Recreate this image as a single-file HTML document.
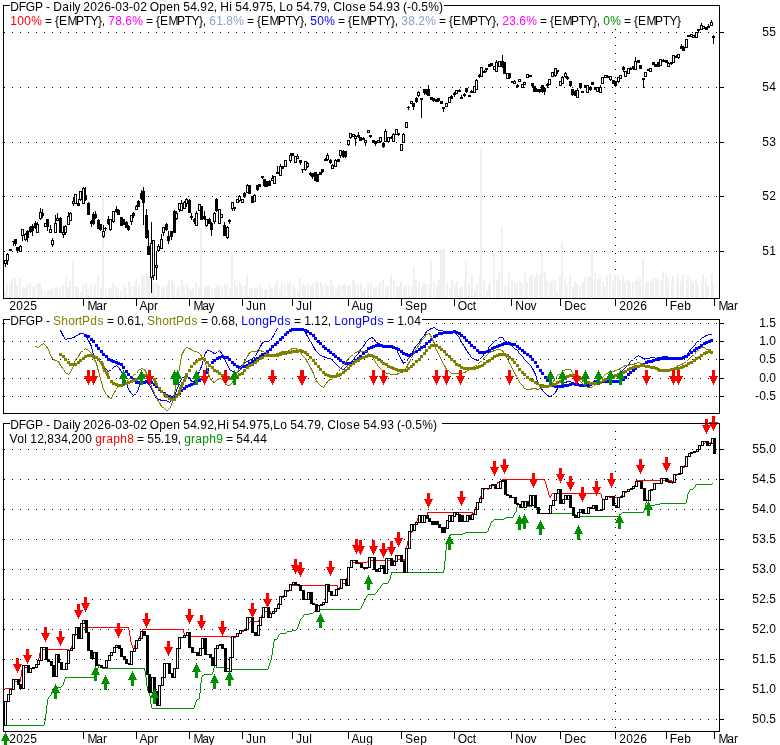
<!DOCTYPE html>
<html><head><meta charset="utf-8"><title>DFGP chart</title>
<style>html,body{margin:0;padding:0;background:#fff}body{width:780px;height:745px;overflow:hidden}</style></head>
<body>
<svg width="780" height="745" viewBox="0 0 780 745" style="display:block">
<rect width="780" height="745" fill="#fff"/>
<g shape-rendering="crispEdges">
<path d="M4 32.5H719" stroke="#000" stroke-width="1" stroke-dasharray="1 7" fill="none"/>
<rect x="720" y="32" width="4" height="1" fill="#000"/>
<text x="762.16 769.16" y="36" fill="#000" font-family="Liberation Sans, Arial, sans-serif" font-size="12px">55</text>
<path d="M4 87.5H719" stroke="#000" stroke-width="1" stroke-dasharray="1 7" fill="none"/>
<rect x="720" y="87" width="4" height="1" fill="#000"/>
<text x="762.16 769.16" y="91" fill="#000" font-family="Liberation Sans, Arial, sans-serif" font-size="12px">54</text>
<path d="M4 142.5H719" stroke="#000" stroke-width="1" stroke-dasharray="1 7" fill="none"/>
<rect x="720" y="142" width="4" height="1" fill="#000"/>
<text x="762.16 769.16" y="146" fill="#000" font-family="Liberation Sans, Arial, sans-serif" font-size="12px">53</text>
<path d="M4 196.5H719" stroke="#000" stroke-width="1" stroke-dasharray="1 7" fill="none"/>
<rect x="720" y="196" width="4" height="1" fill="#000"/>
<text x="762.16 769.16" y="200" fill="#000" font-family="Liberation Sans, Arial, sans-serif" font-size="12px">52</text>
<path d="M4 251.5H719" stroke="#000" stroke-width="1" stroke-dasharray="1 7" fill="none"/>
<rect x="720" y="251" width="4" height="1" fill="#000"/>
<text x="762.16 769.16" y="255" fill="#000" font-family="Liberation Sans, Arial, sans-serif" font-size="12px">51</text>
<path d="M615.5 29V294" stroke="#000" stroke-width="1" stroke-dasharray="1 7" fill="none"/>
<rect x="4" y="290" width="2" height="8" fill="#f0f0f0"/>
<rect x="6" y="284" width="2" height="14" fill="#f0f0f0"/>
<rect x="9" y="284" width="2" height="14" fill="#f0f0f0"/>
<rect x="11" y="278" width="2" height="20" fill="#f0f0f0"/>
<rect x="14" y="278" width="2" height="20" fill="#f0f0f0"/>
<rect x="16" y="285" width="2" height="13" fill="#f0f0f0"/>
<rect x="19" y="278" width="2" height="20" fill="#f0f0f0"/>
<rect x="22" y="287" width="2" height="11" fill="#f0f0f0"/>
<rect x="24" y="288" width="2" height="10" fill="#f0f0f0"/>
<rect x="26" y="286" width="2" height="12" fill="#f0f0f0"/>
<rect x="29" y="283" width="2" height="15" fill="#f0f0f0"/>
<rect x="32" y="287" width="2" height="11" fill="#f0f0f0"/>
<rect x="34" y="286" width="2" height="12" fill="#f0f0f0"/>
<rect x="37" y="283" width="2" height="15" fill="#f0f0f0"/>
<rect x="39" y="283" width="2" height="15" fill="#f0f0f0"/>
<rect x="41" y="289" width="2" height="9" fill="#f0f0f0"/>
<rect x="44" y="292" width="2" height="6" fill="#f0f0f0"/>
<rect x="47" y="290" width="2" height="8" fill="#f0f0f0"/>
<rect x="49" y="289" width="2" height="9" fill="#f0f0f0"/>
<rect x="51" y="288" width="2" height="10" fill="#f0f0f0"/>
<rect x="54" y="287" width="2" height="11" fill="#f0f0f0"/>
<rect x="56" y="287" width="2" height="11" fill="#f0f0f0"/>
<rect x="59" y="287" width="2" height="11" fill="#f0f0f0"/>
<rect x="62" y="285" width="2" height="13" fill="#f0f0f0"/>
<rect x="65" y="277" width="2" height="21" fill="#f0f0f0"/>
<rect x="67" y="287" width="2" height="11" fill="#f0f0f0"/>
<rect x="69" y="281" width="2" height="17" fill="#f0f0f0"/>
<rect x="72" y="261" width="2" height="37" fill="#f0f0f0"/>
<rect x="75" y="286" width="2" height="12" fill="#f0f0f0"/>
<rect x="77" y="287" width="2" height="11" fill="#f0f0f0"/>
<rect x="80" y="292" width="2" height="6" fill="#f0f0f0"/>
<rect x="82" y="286" width="2" height="12" fill="#f0f0f0"/>
<rect x="85" y="283" width="2" height="15" fill="#f0f0f0"/>
<rect x="87" y="289" width="2" height="9" fill="#f0f0f0"/>
<rect x="90" y="285" width="2" height="13" fill="#f0f0f0"/>
<rect x="93" y="289" width="2" height="9" fill="#f0f0f0"/>
<rect x="94" y="284" width="2" height="14" fill="#f0f0f0"/>
<rect x="97" y="276" width="2" height="22" fill="#f0f0f0"/>
<rect x="100" y="288" width="2" height="10" fill="#f0f0f0"/>
<rect x="102" y="193" width="2" height="105" fill="#f0f0f0"/>
<rect x="105" y="289" width="2" height="9" fill="#f0f0f0"/>
<rect x="108" y="288" width="2" height="10" fill="#f0f0f0"/>
<rect x="110" y="287" width="2" height="11" fill="#f0f0f0"/>
<rect x="112" y="283" width="2" height="15" fill="#f0f0f0"/>
<rect x="115" y="286" width="2" height="12" fill="#f0f0f0"/>
<rect x="117" y="289" width="2" height="9" fill="#f0f0f0"/>
<rect x="120" y="290" width="2" height="8" fill="#f0f0f0"/>
<rect x="123" y="285" width="2" height="13" fill="#f0f0f0"/>
<rect x="125" y="288" width="2" height="10" fill="#f0f0f0"/>
<rect x="128" y="281" width="2" height="17" fill="#f0f0f0"/>
<rect x="130" y="287" width="2" height="11" fill="#f0f0f0"/>
<rect x="133" y="286" width="2" height="12" fill="#f0f0f0"/>
<rect x="135" y="279" width="2" height="19" fill="#f0f0f0"/>
<rect x="138" y="285" width="2" height="13" fill="#f0f0f0"/>
<rect x="141" y="275" width="2" height="23" fill="#f0f0f0"/>
<rect x="143" y="276" width="2" height="22" fill="#f0f0f0"/>
<rect x="146" y="273" width="2" height="25" fill="#f0f0f0"/>
<rect x="148" y="276" width="2" height="22" fill="#f0f0f0"/>
<rect x="151" y="278" width="2" height="20" fill="#f0f0f0"/>
<rect x="153" y="283" width="2" height="15" fill="#f0f0f0"/>
<rect x="156" y="283" width="2" height="15" fill="#f0f0f0"/>
<rect x="158" y="285" width="2" height="13" fill="#f0f0f0"/>
<rect x="161" y="287" width="2" height="11" fill="#f0f0f0"/>
<rect x="163" y="287" width="2" height="11" fill="#f0f0f0"/>
<rect x="166" y="285" width="2" height="13" fill="#f0f0f0"/>
<rect x="168" y="280" width="2" height="18" fill="#f0f0f0"/>
<rect x="171" y="279" width="2" height="19" fill="#f0f0f0"/>
<rect x="173" y="284" width="2" height="14" fill="#f0f0f0"/>
<rect x="176" y="289" width="2" height="9" fill="#f0f0f0"/>
<rect x="178" y="286" width="2" height="12" fill="#f0f0f0"/>
<rect x="181" y="279" width="2" height="19" fill="#f0f0f0"/>
<rect x="183" y="285" width="2" height="13" fill="#f0f0f0"/>
<rect x="186" y="284" width="2" height="14" fill="#f0f0f0"/>
<rect x="188" y="288" width="2" height="10" fill="#f0f0f0"/>
<rect x="189" y="289" width="2" height="9" fill="#f0f0f0"/>
<rect x="191" y="290" width="2" height="8" fill="#f0f0f0"/>
<rect x="192" y="288" width="2" height="10" fill="#f0f0f0"/>
<rect x="195" y="283" width="2" height="15" fill="#f0f0f0"/>
<rect x="198" y="287" width="2" height="11" fill="#f0f0f0"/>
<rect x="200" y="228" width="2" height="70" fill="#f0f0f0"/>
<rect x="204" y="287" width="2" height="11" fill="#f0f0f0"/>
<rect x="206" y="285" width="2" height="13" fill="#f0f0f0"/>
<rect x="208" y="286" width="2" height="12" fill="#f0f0f0"/>
<rect x="211" y="289" width="2" height="9" fill="#f0f0f0"/>
<rect x="214" y="288" width="2" height="10" fill="#f0f0f0"/>
<rect x="216" y="286" width="2" height="12" fill="#f0f0f0"/>
<rect x="218" y="285" width="2" height="13" fill="#f0f0f0"/>
<rect x="221" y="287" width="2" height="11" fill="#f0f0f0"/>
<rect x="224" y="284" width="2" height="14" fill="#f0f0f0"/>
<rect x="226" y="285" width="2" height="13" fill="#f0f0f0"/>
<rect x="229" y="288" width="2" height="10" fill="#f0f0f0"/>
<rect x="231" y="253" width="2" height="45" fill="#f0f0f0"/>
<rect x="234" y="280" width="2" height="18" fill="#f0f0f0"/>
<rect x="236" y="286" width="2" height="12" fill="#f0f0f0"/>
<rect x="239" y="282" width="2" height="16" fill="#f0f0f0"/>
<rect x="241" y="286" width="2" height="12" fill="#f0f0f0"/>
<rect x="244" y="285" width="2" height="13" fill="#f0f0f0"/>
<rect x="246" y="275" width="2" height="23" fill="#f0f0f0"/>
<rect x="249" y="288" width="2" height="10" fill="#f0f0f0"/>
<rect x="251" y="288" width="2" height="10" fill="#f0f0f0"/>
<rect x="254" y="287" width="2" height="11" fill="#f0f0f0"/>
<rect x="256" y="287" width="2" height="11" fill="#f0f0f0"/>
<rect x="259" y="284" width="2" height="14" fill="#f0f0f0"/>
<rect x="261" y="289" width="2" height="9" fill="#f0f0f0"/>
<rect x="264" y="289" width="2" height="9" fill="#f0f0f0"/>
<rect x="266" y="289" width="2" height="9" fill="#f0f0f0"/>
<rect x="269" y="285" width="2" height="13" fill="#f0f0f0"/>
<rect x="271" y="288" width="2" height="10" fill="#f0f0f0"/>
<rect x="274" y="286" width="2" height="12" fill="#f0f0f0"/>
<rect x="276" y="280" width="2" height="18" fill="#f0f0f0"/>
<rect x="279" y="290" width="2" height="8" fill="#f0f0f0"/>
<rect x="281" y="283" width="2" height="15" fill="#f0f0f0"/>
<rect x="284" y="285" width="2" height="13" fill="#f0f0f0"/>
<rect x="287" y="283" width="2" height="15" fill="#f0f0f0"/>
<rect x="289" y="282" width="2" height="16" fill="#f0f0f0"/>
<rect x="292" y="285" width="2" height="13" fill="#f0f0f0"/>
<rect x="294" y="288" width="2" height="10" fill="#f0f0f0"/>
<rect x="297" y="291" width="2" height="7" fill="#f0f0f0"/>
<rect x="299" y="278" width="2" height="20" fill="#f0f0f0"/>
<rect x="302" y="283" width="2" height="15" fill="#f0f0f0"/>
<rect x="304" y="285" width="2" height="13" fill="#f0f0f0"/>
<rect x="307" y="284" width="2" height="14" fill="#f0f0f0"/>
<rect x="310" y="286" width="2" height="12" fill="#f0f0f0"/>
<rect x="312" y="283" width="2" height="15" fill="#f0f0f0"/>
<rect x="315" y="281" width="2" height="17" fill="#f0f0f0"/>
<rect x="317" y="281" width="2" height="17" fill="#f0f0f0"/>
<rect x="320" y="282" width="2" height="16" fill="#f0f0f0"/>
<rect x="322" y="286" width="2" height="12" fill="#f0f0f0"/>
<rect x="325" y="284" width="2" height="14" fill="#f0f0f0"/>
<rect x="327" y="286" width="2" height="12" fill="#f0f0f0"/>
<rect x="330" y="279" width="2" height="19" fill="#f0f0f0"/>
<rect x="332" y="286" width="2" height="12" fill="#f0f0f0"/>
<rect x="335" y="290" width="2" height="8" fill="#f0f0f0"/>
<rect x="337" y="286" width="2" height="12" fill="#f0f0f0"/>
<rect x="339" y="284" width="2" height="14" fill="#f0f0f0"/>
<rect x="342" y="285" width="2" height="13" fill="#f0f0f0"/>
<rect x="344" y="284" width="2" height="14" fill="#f0f0f0"/>
<rect x="347" y="286" width="2" height="12" fill="#f0f0f0"/>
<rect x="349" y="285" width="2" height="13" fill="#f0f0f0"/>
<rect x="352" y="280" width="2" height="18" fill="#f0f0f0"/>
<rect x="354" y="283" width="2" height="15" fill="#f0f0f0"/>
<rect x="357" y="284" width="2" height="14" fill="#f0f0f0"/>
<rect x="360" y="283" width="2" height="15" fill="#f0f0f0"/>
<rect x="362" y="290" width="2" height="8" fill="#f0f0f0"/>
<rect x="364" y="288" width="2" height="10" fill="#f0f0f0"/>
<rect x="367" y="283" width="2" height="15" fill="#f0f0f0"/>
<rect x="370" y="282" width="2" height="16" fill="#f0f0f0"/>
<rect x="373" y="288" width="2" height="10" fill="#f0f0f0"/>
<rect x="375" y="286" width="2" height="12" fill="#f0f0f0"/>
<rect x="378" y="286" width="2" height="12" fill="#f0f0f0"/>
<rect x="379" y="282" width="2" height="16" fill="#f0f0f0"/>
<rect x="382" y="280" width="2" height="18" fill="#f0f0f0"/>
<rect x="385" y="286" width="2" height="12" fill="#f0f0f0"/>
<rect x="387" y="286" width="2" height="12" fill="#f0f0f0"/>
<rect x="390" y="275" width="2" height="23" fill="#f0f0f0"/>
<rect x="393" y="280" width="2" height="18" fill="#f0f0f0"/>
<rect x="396" y="286" width="2" height="12" fill="#f0f0f0"/>
<rect x="398" y="287" width="2" height="11" fill="#f0f0f0"/>
<rect x="400" y="281" width="2" height="17" fill="#f0f0f0"/>
<rect x="403" y="287" width="2" height="11" fill="#f0f0f0"/>
<rect x="405" y="285" width="2" height="13" fill="#f0f0f0"/>
<rect x="408" y="285" width="2" height="13" fill="#f0f0f0"/>
<rect x="411" y="287" width="2" height="11" fill="#f0f0f0"/>
<rect x="413" y="267" width="2" height="31" fill="#f0f0f0"/>
<rect x="415" y="280" width="2" height="18" fill="#f0f0f0"/>
<rect x="418" y="282" width="2" height="16" fill="#f0f0f0"/>
<rect x="421" y="287" width="2" height="11" fill="#f0f0f0"/>
<rect x="423" y="282" width="2" height="16" fill="#f0f0f0"/>
<rect x="425" y="284" width="2" height="14" fill="#f0f0f0"/>
<rect x="428" y="284" width="2" height="14" fill="#f0f0f0"/>
<rect x="430" y="260" width="2" height="38" fill="#f0f0f0"/>
<rect x="433" y="281" width="2" height="17" fill="#f0f0f0"/>
<rect x="436" y="285" width="2" height="13" fill="#f0f0f0"/>
<rect x="438" y="280" width="2" height="18" fill="#f0f0f0"/>
<rect x="440" y="249" width="2" height="49" fill="#f0f0f0"/>
<rect x="443" y="249" width="2" height="49" fill="#f0f0f0"/>
<rect x="446" y="283" width="2" height="15" fill="#f0f0f0"/>
<rect x="449" y="288" width="2" height="10" fill="#f0f0f0"/>
<rect x="451" y="280" width="2" height="18" fill="#f0f0f0"/>
<rect x="454" y="285" width="2" height="13" fill="#f0f0f0"/>
<rect x="456" y="281" width="2" height="17" fill="#f0f0f0"/>
<rect x="459" y="288" width="2" height="10" fill="#f0f0f0"/>
<rect x="461" y="286" width="2" height="12" fill="#f0f0f0"/>
<rect x="464" y="281" width="2" height="17" fill="#f0f0f0"/>
<rect x="465" y="262" width="2" height="36" fill="#f0f0f0"/>
<rect x="468" y="283" width="2" height="15" fill="#f0f0f0"/>
<rect x="471" y="275" width="2" height="23" fill="#f0f0f0"/>
<rect x="474" y="290" width="2" height="8" fill="#f0f0f0"/>
<rect x="476" y="283" width="2" height="15" fill="#f0f0f0"/>
<rect x="479" y="276" width="2" height="22" fill="#f0f0f0"/>
<rect x="480" y="148" width="2" height="150" fill="#f0f0f0"/>
<rect x="483" y="281" width="2" height="17" fill="#f0f0f0"/>
<rect x="486" y="290" width="2" height="8" fill="#f0f0f0"/>
<rect x="488" y="284" width="2" height="14" fill="#f0f0f0"/>
<rect x="489" y="283" width="2" height="15" fill="#f0f0f0"/>
<rect x="493" y="254" width="2" height="44" fill="#f0f0f0"/>
<rect x="496" y="280" width="2" height="18" fill="#f0f0f0"/>
<rect x="498" y="271" width="2" height="27" fill="#f0f0f0"/>
<rect x="501" y="227" width="2" height="71" fill="#f0f0f0"/>
<rect x="504" y="286" width="2" height="12" fill="#f0f0f0"/>
<rect x="507" y="287" width="2" height="11" fill="#f0f0f0"/>
<rect x="508" y="273" width="2" height="25" fill="#f0f0f0"/>
<rect x="511" y="280" width="2" height="18" fill="#f0f0f0"/>
<rect x="514" y="282" width="2" height="16" fill="#f0f0f0"/>
<rect x="516" y="284" width="2" height="14" fill="#f0f0f0"/>
<rect x="519" y="281" width="2" height="17" fill="#f0f0f0"/>
<rect x="521" y="283" width="2" height="15" fill="#f0f0f0"/>
<rect x="524" y="273" width="2" height="25" fill="#f0f0f0"/>
<rect x="526" y="282" width="2" height="16" fill="#f0f0f0"/>
<rect x="529" y="277" width="2" height="21" fill="#f0f0f0"/>
<rect x="531" y="275" width="2" height="23" fill="#f0f0f0"/>
<rect x="534" y="277" width="2" height="21" fill="#f0f0f0"/>
<rect x="536" y="273" width="2" height="25" fill="#f0f0f0"/>
<rect x="539" y="275" width="2" height="23" fill="#f0f0f0"/>
<rect x="541" y="250" width="2" height="48" fill="#f0f0f0"/>
<rect x="544" y="272" width="2" height="26" fill="#f0f0f0"/>
<rect x="546" y="281" width="2" height="17" fill="#f0f0f0"/>
<rect x="549" y="283" width="2" height="15" fill="#f0f0f0"/>
<rect x="551" y="279" width="2" height="19" fill="#f0f0f0"/>
<rect x="554" y="281" width="2" height="17" fill="#f0f0f0"/>
<rect x="556" y="292" width="2" height="6" fill="#f0f0f0"/>
<rect x="559" y="275" width="2" height="23" fill="#f0f0f0"/>
<rect x="561" y="242" width="2" height="56" fill="#f0f0f0"/>
<rect x="564" y="279" width="2" height="19" fill="#f0f0f0"/>
<rect x="566" y="285" width="2" height="13" fill="#f0f0f0"/>
<rect x="569" y="275" width="2" height="23" fill="#f0f0f0"/>
<rect x="572" y="287" width="2" height="11" fill="#f0f0f0"/>
<rect x="574" y="282" width="2" height="16" fill="#f0f0f0"/>
<rect x="576" y="284" width="2" height="14" fill="#f0f0f0"/>
<rect x="579" y="286" width="2" height="12" fill="#f0f0f0"/>
<rect x="582" y="282" width="2" height="16" fill="#f0f0f0"/>
<rect x="584" y="277" width="2" height="21" fill="#f0f0f0"/>
<rect x="587" y="277" width="2" height="21" fill="#f0f0f0"/>
<rect x="589" y="276" width="2" height="22" fill="#f0f0f0"/>
<rect x="591" y="249" width="2" height="49" fill="#f0f0f0"/>
<rect x="594" y="273" width="2" height="25" fill="#f0f0f0"/>
<rect x="597" y="279" width="2" height="19" fill="#f0f0f0"/>
<rect x="599" y="275" width="2" height="23" fill="#f0f0f0"/>
<rect x="602" y="282" width="2" height="16" fill="#f0f0f0"/>
<rect x="604" y="287" width="2" height="11" fill="#f0f0f0"/>
<rect x="606" y="276" width="2" height="22" fill="#f0f0f0"/>
<rect x="609" y="273" width="2" height="25" fill="#f0f0f0"/>
<rect x="612" y="281" width="2" height="17" fill="#f0f0f0"/>
<rect x="614" y="275" width="2" height="23" fill="#f0f0f0"/>
<rect x="617" y="275" width="2" height="23" fill="#f0f0f0"/>
<rect x="619" y="280" width="2" height="18" fill="#f0f0f0"/>
<rect x="622" y="275" width="2" height="23" fill="#f0f0f0"/>
<rect x="624" y="282" width="2" height="16" fill="#f0f0f0"/>
<rect x="627" y="279" width="2" height="19" fill="#f0f0f0"/>
<rect x="629" y="282" width="2" height="16" fill="#f0f0f0"/>
<rect x="632" y="282" width="2" height="16" fill="#f0f0f0"/>
<rect x="635" y="279" width="2" height="19" fill="#f0f0f0"/>
<rect x="637" y="281" width="2" height="17" fill="#f0f0f0"/>
<rect x="639" y="277" width="2" height="21" fill="#f0f0f0"/>
<rect x="642" y="258" width="2" height="40" fill="#f0f0f0"/>
<rect x="645" y="283" width="2" height="15" fill="#f0f0f0"/>
<rect x="647" y="281" width="2" height="17" fill="#f0f0f0"/>
<rect x="650" y="282" width="2" height="16" fill="#f0f0f0"/>
<rect x="652" y="278" width="2" height="20" fill="#f0f0f0"/>
<rect x="655" y="279" width="2" height="19" fill="#f0f0f0"/>
<rect x="657" y="279" width="2" height="19" fill="#f0f0f0"/>
<rect x="660" y="280" width="2" height="18" fill="#f0f0f0"/>
<rect x="662" y="271" width="2" height="27" fill="#f0f0f0"/>
<rect x="665" y="274" width="2" height="24" fill="#f0f0f0"/>
<rect x="667" y="278" width="2" height="20" fill="#f0f0f0"/>
<rect x="671" y="282" width="2" height="16" fill="#f0f0f0"/>
<rect x="672" y="276" width="2" height="22" fill="#f0f0f0"/>
<rect x="676" y="283" width="2" height="15" fill="#f0f0f0"/>
<rect x="677" y="274" width="2" height="24" fill="#f0f0f0"/>
<rect x="680" y="281" width="2" height="17" fill="#f0f0f0"/>
<rect x="682" y="274" width="2" height="24" fill="#f0f0f0"/>
<rect x="686" y="280" width="2" height="18" fill="#f0f0f0"/>
<rect x="687" y="275" width="2" height="23" fill="#f0f0f0"/>
<rect x="690" y="279" width="2" height="19" fill="#f0f0f0"/>
<rect x="692" y="282" width="2" height="16" fill="#f0f0f0"/>
<rect x="695" y="280" width="2" height="18" fill="#f0f0f0"/>
<rect x="697" y="285" width="2" height="13" fill="#f0f0f0"/>
<rect x="701" y="281" width="2" height="17" fill="#f0f0f0"/>
<rect x="702" y="274" width="2" height="24" fill="#f0f0f0"/>
<rect x="705" y="278" width="2" height="20" fill="#f0f0f0"/>
<rect x="707" y="286" width="2" height="12" fill="#f0f0f0"/>
<rect x="711" y="273" width="2" height="25" fill="#f0f0f0"/>
<rect x="712" y="284" width="2" height="14" fill="#f0f0f0"/>
<rect x="441" y="249" width="4" height="49" fill="#f0f0f0"/>
<rect x="5" y="260" width="1" height="7" fill="#000"/>
<rect x="4" y="260" width="3" height="4" fill="#000"/>
<rect x="5" y="261" width="1" height="2" fill="#fff"/>
<rect x="7" y="253" width="1" height="12" fill="#000"/>
<rect x="6" y="254" width="3" height="7" fill="#000"/>
<rect x="7" y="255" width="1" height="5" fill="#fff"/>
<rect x="10" y="249" width="1" height="2" fill="#000"/>
<rect x="9" y="249" width="3" height="2" fill="#000"/>
<rect x="13" y="241" width="1" height="5" fill="#000"/>
<rect x="12" y="241" width="3" height="1" fill="#000"/>
<rect x="15" y="239" width="1" height="7" fill="#000"/>
<rect x="14" y="239" width="3" height="5" fill="#000"/>
<rect x="17" y="247" width="1" height="6" fill="#000"/>
<rect x="16" y="247" width="3" height="4" fill="#000"/>
<rect x="20" y="245" width="1" height="7" fill="#000"/>
<rect x="19" y="246" width="3" height="6" fill="#000"/>
<rect x="20" y="247" width="1" height="4" fill="#fff"/>
<rect x="22" y="229" width="1" height="12" fill="#000"/>
<rect x="21" y="229" width="3" height="7" fill="#000"/>
<rect x="22" y="230" width="1" height="5" fill="#fff"/>
<rect x="25" y="233" width="1" height="8" fill="#000"/>
<rect x="24" y="234" width="3" height="6" fill="#000"/>
<rect x="25" y="235" width="1" height="4" fill="#fff"/>
<rect x="27" y="230" width="1" height="12" fill="#000"/>
<rect x="26" y="231" width="3" height="7" fill="#000"/>
<rect x="30" y="226" width="1" height="7" fill="#000"/>
<rect x="29" y="227" width="3" height="5" fill="#000"/>
<rect x="32" y="224" width="1" height="12" fill="#000"/>
<rect x="31" y="226" width="3" height="5" fill="#000"/>
<rect x="35" y="221" width="1" height="8" fill="#000"/>
<rect x="34" y="223" width="3" height="5" fill="#000"/>
<rect x="37" y="222" width="1" height="11" fill="#000"/>
<rect x="36" y="224" width="3" height="9" fill="#000"/>
<rect x="37" y="225" width="1" height="7" fill="#fff"/>
<rect x="40" y="208" width="1" height="12" fill="#000"/>
<rect x="39" y="212" width="3" height="7" fill="#000"/>
<rect x="40" y="213" width="1" height="5" fill="#fff"/>
<rect x="42" y="209" width="1" height="9" fill="#000"/>
<rect x="41" y="213" width="3" height="3" fill="#000"/>
<rect x="45" y="223" width="1" height="4" fill="#000"/>
<rect x="44" y="223" width="3" height="4" fill="#000"/>
<rect x="45" y="224" width="1" height="2" fill="#fff"/>
<rect x="47" y="219" width="1" height="12" fill="#000"/>
<rect x="46" y="219" width="3" height="8" fill="#000"/>
<rect x="50" y="225" width="1" height="8" fill="#000"/>
<rect x="49" y="229" width="3" height="4" fill="#000"/>
<rect x="50" y="230" width="1" height="2" fill="#fff"/>
<rect x="52" y="238" width="1" height="9" fill="#000"/>
<rect x="51" y="240" width="3" height="5" fill="#000"/>
<rect x="52" y="241" width="1" height="3" fill="#fff"/>
<rect x="55" y="215" width="1" height="18" fill="#000"/>
<rect x="54" y="223" width="3" height="10" fill="#000"/>
<rect x="55" y="224" width="1" height="8" fill="#fff"/>
<rect x="57" y="213" width="1" height="8" fill="#000"/>
<rect x="56" y="218" width="3" height="3" fill="#000"/>
<rect x="57" y="219" width="1" height="1" fill="#fff"/>
<rect x="60" y="217" width="1" height="16" fill="#000"/>
<rect x="59" y="218" width="3" height="15" fill="#000"/>
<rect x="63" y="226" width="1" height="12" fill="#000"/>
<rect x="62" y="232" width="3" height="3" fill="#000"/>
<rect x="63" y="233" width="1" height="1" fill="#fff"/>
<rect x="65" y="225" width="1" height="10" fill="#000"/>
<rect x="64" y="226" width="3" height="7" fill="#000"/>
<rect x="65" y="227" width="1" height="5" fill="#fff"/>
<rect x="68" y="212" width="1" height="13" fill="#000"/>
<rect x="67" y="216" width="3" height="9" fill="#000"/>
<rect x="68" y="217" width="1" height="7" fill="#fff"/>
<rect x="70" y="212" width="1" height="9" fill="#000"/>
<rect x="69" y="213" width="3" height="8" fill="#000"/>
<rect x="70" y="214" width="1" height="6" fill="#fff"/>
<rect x="73" y="197" width="1" height="9" fill="#000"/>
<rect x="72" y="201" width="3" height="3" fill="#000"/>
<rect x="73" y="202" width="1" height="1" fill="#fff"/>
<rect x="75" y="194" width="1" height="10" fill="#000"/>
<rect x="74" y="194" width="3" height="10" fill="#000"/>
<rect x="75" y="195" width="1" height="8" fill="#fff"/>
<rect x="78" y="199" width="1" height="7" fill="#000"/>
<rect x="77" y="203" width="3" height="3" fill="#000"/>
<rect x="80" y="191" width="1" height="10" fill="#000"/>
<rect x="79" y="191" width="3" height="9" fill="#000"/>
<rect x="80" y="192" width="1" height="7" fill="#fff"/>
<rect x="83" y="187" width="1" height="17" fill="#000"/>
<rect x="82" y="188" width="3" height="16" fill="#000"/>
<rect x="83" y="189" width="1" height="14" fill="#fff"/>
<rect x="85" y="187" width="1" height="14" fill="#000"/>
<rect x="84" y="195" width="3" height="5" fill="#000"/>
<rect x="88" y="202" width="1" height="13" fill="#000"/>
<rect x="87" y="203" width="3" height="12" fill="#000"/>
<rect x="91" y="220" width="1" height="7" fill="#000"/>
<rect x="90" y="221" width="3" height="3" fill="#000"/>
<rect x="93" y="212" width="1" height="13" fill="#000"/>
<rect x="92" y="214" width="3" height="10" fill="#000"/>
<rect x="95" y="211" width="1" height="8" fill="#000"/>
<rect x="94" y="214" width="3" height="4" fill="#000"/>
<rect x="98" y="219" width="1" height="10" fill="#000"/>
<rect x="97" y="220" width="3" height="9" fill="#000"/>
<rect x="100" y="224" width="1" height="7" fill="#000"/>
<rect x="99" y="224" width="3" height="6" fill="#000"/>
<rect x="103" y="225" width="1" height="13" fill="#000"/>
<rect x="102" y="231" width="3" height="6" fill="#000"/>
<rect x="103" y="232" width="1" height="4" fill="#fff"/>
<rect x="105" y="227" width="1" height="4" fill="#000"/>
<rect x="104" y="228" width="3" height="1" fill="#000"/>
<rect x="108" y="216" width="1" height="9" fill="#000"/>
<rect x="107" y="219" width="3" height="5" fill="#000"/>
<rect x="110" y="219" width="1" height="12" fill="#000"/>
<rect x="109" y="219" width="3" height="11" fill="#000"/>
<rect x="110" y="220" width="1" height="9" fill="#fff"/>
<rect x="113" y="211" width="1" height="12" fill="#000"/>
<rect x="112" y="211" width="3" height="11" fill="#000"/>
<rect x="113" y="212" width="1" height="9" fill="#fff"/>
<rect x="116" y="206" width="1" height="7" fill="#000"/>
<rect x="115" y="209" width="3" height="3" fill="#000"/>
<rect x="118" y="209" width="1" height="6" fill="#000"/>
<rect x="117" y="210" width="3" height="5" fill="#000"/>
<rect x="121" y="217" width="1" height="9" fill="#000"/>
<rect x="120" y="217" width="3" height="9" fill="#000"/>
<rect x="123" y="219" width="1" height="6" fill="#000"/>
<rect x="122" y="219" width="3" height="6" fill="#000"/>
<rect x="126" y="221" width="1" height="7" fill="#000"/>
<rect x="125" y="222" width="3" height="6" fill="#000"/>
<rect x="128" y="225" width="1" height="6" fill="#000"/>
<rect x="127" y="226" width="3" height="4" fill="#000"/>
<rect x="131" y="215" width="1" height="10" fill="#000"/>
<rect x="130" y="215" width="3" height="7" fill="#000"/>
<rect x="131" y="216" width="1" height="5" fill="#fff"/>
<rect x="133" y="212" width="1" height="6" fill="#000"/>
<rect x="132" y="213" width="3" height="3" fill="#000"/>
<rect x="136" y="205" width="1" height="5" fill="#000"/>
<rect x="135" y="206" width="3" height="4" fill="#000"/>
<rect x="136" y="207" width="1" height="2" fill="#fff"/>
<rect x="138" y="200" width="1" height="7" fill="#000"/>
<rect x="137" y="201" width="3" height="6" fill="#000"/>
<rect x="141" y="190" width="1" height="10" fill="#000"/>
<rect x="140" y="193" width="3" height="6" fill="#000"/>
<rect x="143" y="187" width="1" height="38" fill="#000"/>
<rect x="142" y="191" width="3" height="12" fill="#000"/>
<rect x="146" y="209" width="1" height="30" fill="#000"/>
<rect x="145" y="215" width="3" height="23" fill="#000"/>
<rect x="148" y="230" width="1" height="25" fill="#000"/>
<rect x="147" y="246" width="3" height="9" fill="#000"/>
<rect x="151" y="222" width="1" height="71" fill="#000"/>
<rect x="150" y="243" width="3" height="35" fill="#000"/>
<rect x="151" y="244" width="1" height="33" fill="#fff"/>
<rect x="153" y="240" width="1" height="40" fill="#000"/>
<rect x="152" y="240" width="3" height="36" fill="#000"/>
<rect x="153" y="241" width="1" height="34" fill="#fff"/>
<rect x="156" y="251" width="1" height="29" fill="#000"/>
<rect x="155" y="265" width="3" height="3" fill="#000"/>
<rect x="156" y="266" width="1" height="1" fill="#fff"/>
<rect x="158" y="244" width="1" height="8" fill="#000"/>
<rect x="157" y="246" width="3" height="5" fill="#000"/>
<rect x="158" y="247" width="1" height="3" fill="#fff"/>
<rect x="161" y="234" width="1" height="15" fill="#000"/>
<rect x="160" y="239" width="3" height="10" fill="#000"/>
<rect x="161" y="240" width="1" height="8" fill="#fff"/>
<rect x="163" y="227" width="1" height="9" fill="#000"/>
<rect x="162" y="227" width="3" height="6" fill="#000"/>
<rect x="163" y="228" width="1" height="4" fill="#fff"/>
<rect x="166" y="223" width="1" height="8" fill="#000"/>
<rect x="165" y="224" width="3" height="6" fill="#000"/>
<rect x="168" y="231" width="1" height="13" fill="#000"/>
<rect x="167" y="236" width="3" height="5" fill="#000"/>
<rect x="171" y="231" width="1" height="9" fill="#000"/>
<rect x="170" y="231" width="3" height="6" fill="#000"/>
<rect x="174" y="210" width="1" height="23" fill="#000"/>
<rect x="173" y="211" width="3" height="22" fill="#000"/>
<rect x="176" y="211" width="1" height="9" fill="#000"/>
<rect x="175" y="213" width="3" height="6" fill="#000"/>
<rect x="176" y="214" width="1" height="4" fill="#fff"/>
<rect x="179" y="203" width="1" height="9" fill="#000"/>
<rect x="178" y="203" width="3" height="7" fill="#000"/>
<rect x="179" y="204" width="1" height="5" fill="#fff"/>
<rect x="181" y="200" width="1" height="11" fill="#000"/>
<rect x="180" y="203" width="3" height="8" fill="#000"/>
<rect x="181" y="204" width="1" height="6" fill="#fff"/>
<rect x="184" y="201" width="1" height="8" fill="#000"/>
<rect x="183" y="202" width="3" height="7" fill="#000"/>
<rect x="184" y="203" width="1" height="5" fill="#fff"/>
<rect x="186" y="198" width="1" height="9" fill="#000"/>
<rect x="185" y="199" width="3" height="5" fill="#000"/>
<rect x="186" y="200" width="1" height="3" fill="#fff"/>
<rect x="189" y="199" width="1" height="14" fill="#000"/>
<rect x="188" y="200" width="3" height="13" fill="#000"/>
<rect x="191" y="213" width="1" height="7" fill="#000"/>
<rect x="190" y="216" width="3" height="2" fill="#000"/>
<rect x="194" y="218" width="1" height="6" fill="#000"/>
<rect x="193" y="219" width="3" height="3" fill="#000"/>
<rect x="196" y="211" width="1" height="15" fill="#000"/>
<rect x="195" y="213" width="3" height="13" fill="#000"/>
<rect x="196" y="214" width="1" height="11" fill="#fff"/>
<rect x="199" y="204" width="1" height="7" fill="#000"/>
<rect x="198" y="204" width="3" height="7" fill="#000"/>
<rect x="199" y="205" width="1" height="5" fill="#fff"/>
<rect x="201" y="206" width="1" height="14" fill="#000"/>
<rect x="200" y="206" width="3" height="14" fill="#000"/>
<rect x="204" y="211" width="1" height="9" fill="#000"/>
<rect x="203" y="216" width="3" height="3" fill="#000"/>
<rect x="206" y="219" width="1" height="8" fill="#000"/>
<rect x="205" y="219" width="3" height="7" fill="#000"/>
<rect x="206" y="220" width="1" height="5" fill="#fff"/>
<rect x="209" y="218" width="1" height="6" fill="#000"/>
<rect x="208" y="219" width="3" height="5" fill="#000"/>
<rect x="211" y="222" width="1" height="14" fill="#000"/>
<rect x="210" y="223" width="3" height="7" fill="#000"/>
<rect x="214" y="212" width="1" height="12" fill="#000"/>
<rect x="213" y="213" width="3" height="9" fill="#000"/>
<rect x="214" y="214" width="1" height="7" fill="#fff"/>
<rect x="216" y="198" width="1" height="14" fill="#000"/>
<rect x="215" y="199" width="3" height="12" fill="#000"/>
<rect x="219" y="209" width="1" height="15" fill="#000"/>
<rect x="218" y="209" width="3" height="15" fill="#000"/>
<rect x="219" y="210" width="1" height="13" fill="#fff"/>
<rect x="221" y="214" width="1" height="4" fill="#000"/>
<rect x="220" y="214" width="3" height="4" fill="#000"/>
<rect x="221" y="215" width="1" height="2" fill="#fff"/>
<rect x="224" y="222" width="1" height="14" fill="#000"/>
<rect x="223" y="225" width="3" height="11" fill="#000"/>
<rect x="227" y="226" width="1" height="13" fill="#000"/>
<rect x="226" y="227" width="3" height="11" fill="#000"/>
<rect x="227" y="228" width="1" height="9" fill="#fff"/>
<rect x="229" y="219" width="1" height="5" fill="#000"/>
<rect x="228" y="220" width="3" height="2" fill="#000"/>
<rect x="232" y="202" width="1" height="9" fill="#000"/>
<rect x="231" y="202" width="3" height="7" fill="#000"/>
<rect x="232" y="203" width="1" height="5" fill="#fff"/>
<rect x="234" y="207" width="1" height="4" fill="#000"/>
<rect x="233" y="207" width="3" height="2" fill="#000"/>
<rect x="237" y="199" width="1" height="4" fill="#000"/>
<rect x="236" y="199" width="3" height="4" fill="#000"/>
<rect x="237" y="200" width="1" height="2" fill="#fff"/>
<rect x="239" y="195" width="1" height="7" fill="#000"/>
<rect x="238" y="196" width="3" height="5" fill="#000"/>
<rect x="239" y="197" width="1" height="3" fill="#fff"/>
<rect x="242" y="199" width="1" height="4" fill="#000"/>
<rect x="241" y="199" width="3" height="4" fill="#000"/>
<rect x="242" y="200" width="1" height="2" fill="#fff"/>
<rect x="244" y="192" width="1" height="6" fill="#000"/>
<rect x="243" y="193" width="3" height="4" fill="#000"/>
<rect x="247" y="184" width="1" height="9" fill="#000"/>
<rect x="246" y="185" width="3" height="8" fill="#000"/>
<rect x="247" y="186" width="1" height="6" fill="#fff"/>
<rect x="249" y="185" width="1" height="9" fill="#000"/>
<rect x="248" y="185" width="3" height="9" fill="#000"/>
<rect x="252" y="196" width="1" height="7" fill="#000"/>
<rect x="251" y="196" width="3" height="7" fill="#000"/>
<rect x="254" y="194" width="1" height="8" fill="#000"/>
<rect x="253" y="195" width="3" height="7" fill="#000"/>
<rect x="254" y="196" width="1" height="5" fill="#fff"/>
<rect x="257" y="185" width="1" height="6" fill="#000"/>
<rect x="256" y="185" width="3" height="5" fill="#000"/>
<rect x="259" y="184" width="1" height="3" fill="#000"/>
<rect x="258" y="184" width="3" height="3" fill="#000"/>
<rect x="262" y="176" width="1" height="3" fill="#000"/>
<rect x="261" y="176" width="3" height="2" fill="#000"/>
<rect x="264" y="179" width="1" height="8" fill="#000"/>
<rect x="263" y="179" width="3" height="7" fill="#000"/>
<rect x="266" y="181" width="1" height="6" fill="#000"/>
<rect x="265" y="181" width="3" height="6" fill="#000"/>
<rect x="269" y="180" width="1" height="6" fill="#000"/>
<rect x="268" y="181" width="3" height="5" fill="#000"/>
<rect x="272" y="175" width="1" height="6" fill="#000"/>
<rect x="271" y="178" width="3" height="3" fill="#000"/>
<rect x="272" y="179" width="1" height="1" fill="#fff"/>
<rect x="274" y="176" width="1" height="8" fill="#000"/>
<rect x="273" y="176" width="3" height="8" fill="#000"/>
<rect x="274" y="177" width="1" height="6" fill="#fff"/>
<rect x="277" y="166" width="1" height="8" fill="#000"/>
<rect x="276" y="172" width="3" height="2" fill="#000"/>
<rect x="280" y="164" width="1" height="12" fill="#000"/>
<rect x="279" y="166" width="3" height="10" fill="#000"/>
<rect x="280" y="167" width="1" height="8" fill="#fff"/>
<rect x="282" y="166" width="1" height="3" fill="#000"/>
<rect x="281" y="166" width="3" height="3" fill="#000"/>
<rect x="285" y="160" width="1" height="7" fill="#000"/>
<rect x="284" y="160" width="3" height="7" fill="#000"/>
<rect x="285" y="161" width="1" height="5" fill="#fff"/>
<rect x="290" y="153" width="1" height="10" fill="#000"/>
<rect x="289" y="155" width="3" height="6" fill="#000"/>
<rect x="290" y="156" width="1" height="4" fill="#fff"/>
<rect x="292" y="153" width="1" height="3" fill="#000"/>
<rect x="291" y="153" width="3" height="3" fill="#000"/>
<rect x="295" y="156" width="1" height="7" fill="#000"/>
<rect x="294" y="156" width="3" height="7" fill="#000"/>
<rect x="295" y="157" width="1" height="5" fill="#fff"/>
<rect x="297" y="154" width="1" height="5" fill="#000"/>
<rect x="296" y="156" width="3" height="3" fill="#000"/>
<rect x="297" y="157" width="1" height="1" fill="#fff"/>
<rect x="300" y="160" width="1" height="5" fill="#000"/>
<rect x="299" y="160" width="3" height="3" fill="#000"/>
<rect x="302" y="169" width="1" height="4" fill="#000"/>
<rect x="301" y="169" width="3" height="1" fill="#000"/>
<rect x="305" y="161" width="1" height="10" fill="#000"/>
<rect x="304" y="161" width="3" height="9" fill="#000"/>
<rect x="305" y="162" width="1" height="7" fill="#fff"/>
<rect x="307" y="162" width="1" height="6" fill="#000"/>
<rect x="306" y="163" width="3" height="4" fill="#000"/>
<rect x="307" y="164" width="1" height="2" fill="#fff"/>
<rect x="310" y="172" width="1" height="4" fill="#000"/>
<rect x="309" y="173" width="3" height="2" fill="#000"/>
<rect x="312" y="173" width="1" height="6" fill="#000"/>
<rect x="311" y="173" width="3" height="4" fill="#000"/>
<rect x="315" y="172" width="1" height="9" fill="#000"/>
<rect x="314" y="172" width="3" height="9" fill="#000"/>
<rect x="317" y="174" width="1" height="8" fill="#000"/>
<rect x="316" y="174" width="3" height="8" fill="#000"/>
<rect x="320" y="172" width="1" height="3" fill="#000"/>
<rect x="319" y="172" width="3" height="3" fill="#000"/>
<rect x="322" y="169" width="1" height="4" fill="#000"/>
<rect x="321" y="169" width="3" height="3" fill="#000"/>
<rect x="325" y="158" width="1" height="3" fill="#000"/>
<rect x="324" y="159" width="3" height="2" fill="#000"/>
<rect x="327" y="153" width="1" height="8" fill="#000"/>
<rect x="326" y="155" width="3" height="5" fill="#000"/>
<rect x="327" y="156" width="1" height="3" fill="#fff"/>
<rect x="330" y="159" width="1" height="5" fill="#000"/>
<rect x="329" y="160" width="3" height="3" fill="#000"/>
<rect x="332" y="164" width="1" height="5" fill="#000"/>
<rect x="331" y="165" width="3" height="4" fill="#000"/>
<rect x="332" y="166" width="1" height="2" fill="#fff"/>
<rect x="335" y="159" width="1" height="8" fill="#000"/>
<rect x="334" y="160" width="3" height="7" fill="#000"/>
<rect x="335" y="161" width="1" height="5" fill="#fff"/>
<rect x="338" y="159" width="1" height="3" fill="#000"/>
<rect x="337" y="159" width="3" height="3" fill="#000"/>
<rect x="340" y="150" width="1" height="8" fill="#000"/>
<rect x="339" y="150" width="3" height="6" fill="#000"/>
<rect x="340" y="151" width="1" height="4" fill="#fff"/>
<rect x="343" y="150" width="1" height="8" fill="#000"/>
<rect x="342" y="151" width="3" height="6" fill="#000"/>
<rect x="345" y="151" width="1" height="7" fill="#000"/>
<rect x="344" y="151" width="3" height="6" fill="#000"/>
<rect x="348" y="140" width="1" height="6" fill="#000"/>
<rect x="347" y="140" width="3" height="5" fill="#000"/>
<rect x="348" y="141" width="1" height="3" fill="#fff"/>
<rect x="350" y="133" width="1" height="6" fill="#000"/>
<rect x="349" y="133" width="3" height="5" fill="#000"/>
<rect x="350" y="134" width="1" height="3" fill="#fff"/>
<rect x="353" y="134" width="1" height="3" fill="#000"/>
<rect x="352" y="134" width="3" height="3" fill="#000"/>
<rect x="353" y="135" width="1" height="1" fill="#fff"/>
<rect x="355" y="135" width="1" height="11" fill="#000"/>
<rect x="354" y="136" width="3" height="3" fill="#000"/>
<rect x="355" y="137" width="1" height="1" fill="#fff"/>
<rect x="358" y="132" width="1" height="6" fill="#000"/>
<rect x="357" y="135" width="3" height="2" fill="#000"/>
<rect x="360" y="137" width="1" height="4" fill="#000"/>
<rect x="359" y="137" width="3" height="4" fill="#000"/>
<rect x="363" y="137" width="1" height="3" fill="#000"/>
<rect x="362" y="138" width="3" height="2" fill="#000"/>
<rect x="365" y="140" width="1" height="6" fill="#000"/>
<rect x="364" y="140" width="3" height="3" fill="#000"/>
<rect x="365" y="141" width="1" height="1" fill="#fff"/>
<rect x="368" y="130" width="1" height="3" fill="#000"/>
<rect x="367" y="130" width="3" height="3" fill="#000"/>
<rect x="368" y="131" width="1" height="1" fill="#fff"/>
<rect x="370" y="135" width="1" height="3" fill="#000"/>
<rect x="369" y="135" width="3" height="2" fill="#000"/>
<rect x="373" y="140" width="1" height="3" fill="#000"/>
<rect x="372" y="140" width="3" height="3" fill="#000"/>
<rect x="375" y="141" width="1" height="5" fill="#000"/>
<rect x="374" y="141" width="3" height="3" fill="#000"/>
<rect x="378" y="140" width="1" height="3" fill="#000"/>
<rect x="377" y="140" width="3" height="3" fill="#000"/>
<rect x="378" y="141" width="1" height="1" fill="#fff"/>
<rect x="380" y="137" width="1" height="6" fill="#000"/>
<rect x="379" y="137" width="3" height="5" fill="#000"/>
<rect x="380" y="138" width="1" height="3" fill="#fff"/>
<rect x="383" y="142" width="1" height="6" fill="#000"/>
<rect x="382" y="143" width="3" height="4" fill="#000"/>
<rect x="385" y="129" width="1" height="13" fill="#000"/>
<rect x="384" y="131" width="3" height="11" fill="#000"/>
<rect x="385" y="132" width="1" height="9" fill="#fff"/>
<rect x="388" y="137" width="1" height="6" fill="#000"/>
<rect x="387" y="137" width="3" height="5" fill="#000"/>
<rect x="388" y="138" width="1" height="3" fill="#fff"/>
<rect x="391" y="136" width="1" height="3" fill="#000"/>
<rect x="390" y="137" width="3" height="2" fill="#000"/>
<rect x="393" y="133" width="1" height="9" fill="#000"/>
<rect x="392" y="134" width="3" height="8" fill="#000"/>
<rect x="393" y="135" width="1" height="6" fill="#fff"/>
<rect x="396" y="129" width="1" height="6" fill="#000"/>
<rect x="395" y="129" width="3" height="6" fill="#000"/>
<rect x="396" y="130" width="1" height="4" fill="#fff"/>
<rect x="398" y="133" width="1" height="3" fill="#000"/>
<rect x="397" y="133" width="3" height="2" fill="#000"/>
<rect x="401" y="144" width="1" height="7" fill="#000"/>
<rect x="400" y="144" width="3" height="7" fill="#000"/>
<rect x="401" y="145" width="1" height="5" fill="#fff"/>
<rect x="403" y="133" width="1" height="10" fill="#000"/>
<rect x="402" y="134" width="3" height="9" fill="#000"/>
<rect x="403" y="135" width="1" height="7" fill="#fff"/>
<rect x="406" y="122" width="1" height="6" fill="#000"/>
<rect x="405" y="122" width="3" height="6" fill="#000"/>
<rect x="406" y="123" width="1" height="4" fill="#fff"/>
<rect x="408" y="106" width="1" height="4" fill="#000"/>
<rect x="407" y="107" width="3" height="1" fill="#000"/>
<rect x="411" y="101" width="1" height="3" fill="#000"/>
<rect x="410" y="101" width="3" height="3" fill="#000"/>
<rect x="411" y="102" width="1" height="1" fill="#fff"/>
<rect x="413" y="103" width="1" height="7" fill="#000"/>
<rect x="412" y="103" width="3" height="4" fill="#000"/>
<rect x="416" y="97" width="1" height="6" fill="#000"/>
<rect x="415" y="98" width="3" height="4" fill="#000"/>
<rect x="418" y="91" width="1" height="6" fill="#000"/>
<rect x="417" y="92" width="3" height="4" fill="#000"/>
<rect x="418" y="93" width="1" height="2" fill="#fff"/>
<rect x="421" y="98" width="1" height="20" fill="#000"/>
<rect x="420" y="98" width="3" height="2" fill="#000"/>
<rect x="424" y="89" width="1" height="6" fill="#000"/>
<rect x="423" y="89" width="3" height="4" fill="#000"/>
<rect x="426" y="89" width="1" height="6" fill="#000"/>
<rect x="425" y="89" width="3" height="5" fill="#000"/>
<rect x="428" y="85" width="1" height="11" fill="#000"/>
<rect x="427" y="89" width="3" height="7" fill="#000"/>
<rect x="431" y="97" width="1" height="3" fill="#000"/>
<rect x="430" y="97" width="3" height="3" fill="#000"/>
<rect x="433" y="98" width="1" height="4" fill="#000"/>
<rect x="432" y="98" width="3" height="3" fill="#000"/>
<rect x="436" y="99" width="1" height="3" fill="#000"/>
<rect x="435" y="99" width="3" height="3" fill="#000"/>
<rect x="438" y="98" width="1" height="4" fill="#000"/>
<rect x="437" y="98" width="3" height="3" fill="#000"/>
<rect x="441" y="101" width="1" height="3" fill="#000"/>
<rect x="440" y="101" width="3" height="3" fill="#000"/>
<rect x="443" y="107" width="1" height="5" fill="#000"/>
<rect x="442" y="107" width="3" height="2" fill="#000"/>
<rect x="446" y="103" width="1" height="4" fill="#000"/>
<rect x="445" y="103" width="3" height="4" fill="#000"/>
<rect x="446" y="104" width="1" height="2" fill="#fff"/>
<rect x="449" y="97" width="1" height="6" fill="#000"/>
<rect x="448" y="97" width="3" height="6" fill="#000"/>
<rect x="449" y="98" width="1" height="4" fill="#fff"/>
<rect x="451" y="95" width="1" height="4" fill="#000"/>
<rect x="450" y="96" width="3" height="3" fill="#000"/>
<rect x="454" y="92" width="1" height="5" fill="#000"/>
<rect x="453" y="93" width="3" height="2" fill="#000"/>
<rect x="456" y="90" width="1" height="4" fill="#000"/>
<rect x="455" y="90" width="3" height="4" fill="#000"/>
<rect x="456" y="91" width="1" height="2" fill="#fff"/>
<rect x="459" y="89" width="1" height="3" fill="#000"/>
<rect x="458" y="90" width="3" height="2" fill="#000"/>
<rect x="461" y="95" width="1" height="4" fill="#000"/>
<rect x="460" y="97" width="3" height="2" fill="#000"/>
<rect x="464" y="93" width="1" height="4" fill="#000"/>
<rect x="463" y="94" width="3" height="2" fill="#000"/>
<rect x="466" y="88" width="1" height="5" fill="#000"/>
<rect x="465" y="88" width="3" height="4" fill="#000"/>
<rect x="469" y="95" width="1" height="2" fill="#000"/>
<rect x="468" y="95" width="3" height="2" fill="#000"/>
<rect x="471" y="90" width="1" height="3" fill="#000"/>
<rect x="470" y="91" width="3" height="2" fill="#000"/>
<rect x="474" y="86" width="1" height="7" fill="#000"/>
<rect x="473" y="86" width="3" height="7" fill="#000"/>
<rect x="474" y="87" width="1" height="5" fill="#fff"/>
<rect x="476" y="79" width="1" height="11" fill="#000"/>
<rect x="475" y="80" width="3" height="10" fill="#000"/>
<rect x="476" y="81" width="1" height="8" fill="#fff"/>
<rect x="479" y="74" width="1" height="4" fill="#000"/>
<rect x="478" y="75" width="3" height="2" fill="#000"/>
<rect x="481" y="67" width="1" height="10" fill="#000"/>
<rect x="480" y="67" width="3" height="10" fill="#000"/>
<rect x="481" y="68" width="1" height="8" fill="#fff"/>
<rect x="484" y="70" width="1" height="3" fill="#000"/>
<rect x="483" y="71" width="3" height="2" fill="#000"/>
<rect x="486" y="68" width="1" height="4" fill="#000"/>
<rect x="485" y="68" width="3" height="2" fill="#000"/>
<rect x="489" y="64" width="1" height="3" fill="#000"/>
<rect x="488" y="64" width="3" height="3" fill="#000"/>
<rect x="491" y="63" width="1" height="3" fill="#000"/>
<rect x="490" y="63" width="3" height="3" fill="#000"/>
<rect x="494" y="66" width="1" height="4" fill="#000"/>
<rect x="493" y="66" width="3" height="4" fill="#000"/>
<rect x="494" y="67" width="1" height="2" fill="#fff"/>
<rect x="496" y="60" width="1" height="12" fill="#000"/>
<rect x="495" y="62" width="3" height="10" fill="#000"/>
<rect x="496" y="63" width="1" height="8" fill="#fff"/>
<rect x="499" y="61" width="1" height="6" fill="#000"/>
<rect x="498" y="61" width="3" height="6" fill="#000"/>
<rect x="499" y="62" width="1" height="4" fill="#fff"/>
<rect x="502" y="55" width="1" height="13" fill="#000"/>
<rect x="501" y="61" width="3" height="6" fill="#000"/>
<rect x="504" y="62" width="1" height="12" fill="#000"/>
<rect x="503" y="62" width="3" height="12" fill="#000"/>
<rect x="507" y="73" width="1" height="6" fill="#000"/>
<rect x="506" y="73" width="3" height="6" fill="#000"/>
<rect x="507" y="74" width="1" height="4" fill="#fff"/>
<rect x="509" y="73" width="1" height="6" fill="#000"/>
<rect x="508" y="73" width="3" height="5" fill="#000"/>
<rect x="512" y="81" width="1" height="2" fill="#000"/>
<rect x="511" y="81" width="3" height="2" fill="#000"/>
<rect x="514" y="80" width="1" height="4" fill="#000"/>
<rect x="513" y="81" width="3" height="3" fill="#000"/>
<rect x="514" y="82" width="1" height="1" fill="#fff"/>
<rect x="517" y="84" width="1" height="4" fill="#000"/>
<rect x="516" y="85" width="3" height="2" fill="#000"/>
<rect x="519" y="79" width="1" height="3" fill="#000"/>
<rect x="518" y="79" width="3" height="3" fill="#000"/>
<rect x="519" y="80" width="1" height="1" fill="#fff"/>
<rect x="522" y="84" width="1" height="4" fill="#000"/>
<rect x="521" y="84" width="3" height="4" fill="#000"/>
<rect x="522" y="85" width="1" height="2" fill="#fff"/>
<rect x="524" y="82" width="1" height="3" fill="#000"/>
<rect x="523" y="82" width="3" height="3" fill="#000"/>
<rect x="524" y="83" width="1" height="1" fill="#fff"/>
<rect x="527" y="74" width="1" height="4" fill="#000"/>
<rect x="526" y="74" width="3" height="4" fill="#000"/>
<rect x="527" y="75" width="1" height="2" fill="#fff"/>
<rect x="530" y="75" width="1" height="2" fill="#000"/>
<rect x="529" y="75" width="3" height="2" fill="#000"/>
<rect x="532" y="83" width="1" height="4" fill="#000"/>
<rect x="531" y="83" width="3" height="3" fill="#000"/>
<rect x="534" y="86" width="1" height="6" fill="#000"/>
<rect x="533" y="86" width="3" height="6" fill="#000"/>
<rect x="536" y="88" width="1" height="4" fill="#000"/>
<rect x="535" y="89" width="3" height="3" fill="#000"/>
<rect x="539" y="89" width="1" height="4" fill="#000"/>
<rect x="538" y="89" width="3" height="3" fill="#000"/>
<rect x="542" y="85" width="1" height="8" fill="#000"/>
<rect x="541" y="85" width="3" height="7" fill="#000"/>
<rect x="544" y="87" width="1" height="8" fill="#000"/>
<rect x="543" y="88" width="3" height="4" fill="#000"/>
<rect x="547" y="83" width="1" height="5" fill="#000"/>
<rect x="546" y="84" width="3" height="2" fill="#000"/>
<rect x="549" y="79" width="1" height="6" fill="#000"/>
<rect x="548" y="79" width="3" height="6" fill="#000"/>
<rect x="549" y="80" width="1" height="4" fill="#fff"/>
<rect x="552" y="72" width="1" height="5" fill="#000"/>
<rect x="551" y="72" width="3" height="5" fill="#000"/>
<rect x="552" y="73" width="1" height="3" fill="#fff"/>
<rect x="555" y="68" width="1" height="9" fill="#000"/>
<rect x="554" y="68" width="3" height="8" fill="#000"/>
<rect x="555" y="69" width="1" height="6" fill="#fff"/>
<rect x="557" y="70" width="1" height="4" fill="#000"/>
<rect x="556" y="70" width="3" height="2" fill="#000"/>
<rect x="560" y="81" width="1" height="5" fill="#000"/>
<rect x="559" y="81" width="3" height="5" fill="#000"/>
<rect x="560" y="82" width="1" height="3" fill="#fff"/>
<rect x="562" y="76" width="1" height="8" fill="#000"/>
<rect x="561" y="77" width="3" height="7" fill="#000"/>
<rect x="562" y="78" width="1" height="5" fill="#fff"/>
<rect x="565" y="72" width="1" height="6" fill="#000"/>
<rect x="564" y="73" width="3" height="4" fill="#000"/>
<rect x="565" y="74" width="1" height="2" fill="#fff"/>
<rect x="567" y="76" width="1" height="4" fill="#000"/>
<rect x="566" y="77" width="3" height="2" fill="#000"/>
<rect x="570" y="81" width="1" height="6" fill="#000"/>
<rect x="569" y="81" width="3" height="5" fill="#000"/>
<rect x="572" y="89" width="1" height="7" fill="#000"/>
<rect x="571" y="89" width="3" height="6" fill="#000"/>
<rect x="575" y="90" width="1" height="6" fill="#000"/>
<rect x="574" y="91" width="3" height="5" fill="#000"/>
<rect x="577" y="88" width="1" height="10" fill="#000"/>
<rect x="576" y="90" width="3" height="8" fill="#000"/>
<rect x="577" y="91" width="1" height="6" fill="#fff"/>
<rect x="580" y="83" width="1" height="6" fill="#000"/>
<rect x="579" y="83" width="3" height="5" fill="#000"/>
<rect x="582" y="91" width="1" height="2" fill="#000"/>
<rect x="581" y="91" width="3" height="2" fill="#000"/>
<rect x="585" y="85" width="1" height="3" fill="#000"/>
<rect x="584" y="85" width="3" height="3" fill="#000"/>
<rect x="587" y="85" width="1" height="8" fill="#000"/>
<rect x="586" y="85" width="3" height="8" fill="#000"/>
<rect x="587" y="86" width="1" height="6" fill="#fff"/>
<rect x="590" y="86" width="1" height="5" fill="#000"/>
<rect x="589" y="87" width="3" height="3" fill="#000"/>
<rect x="592" y="82" width="1" height="3" fill="#000"/>
<rect x="591" y="82" width="3" height="3" fill="#000"/>
<rect x="595" y="87" width="1" height="3" fill="#000"/>
<rect x="594" y="87" width="3" height="3" fill="#000"/>
<rect x="597" y="87" width="1" height="5" fill="#000"/>
<rect x="596" y="87" width="3" height="5" fill="#000"/>
<rect x="597" y="88" width="1" height="3" fill="#fff"/>
<rect x="600" y="85" width="1" height="8" fill="#000"/>
<rect x="599" y="87" width="3" height="6" fill="#000"/>
<rect x="600" y="88" width="1" height="4" fill="#fff"/>
<rect x="602" y="77" width="1" height="7" fill="#000"/>
<rect x="601" y="77" width="3" height="7" fill="#000"/>
<rect x="602" y="78" width="1" height="5" fill="#fff"/>
<rect x="605" y="75" width="1" height="3" fill="#000"/>
<rect x="604" y="75" width="3" height="3" fill="#000"/>
<rect x="605" y="76" width="1" height="1" fill="#fff"/>
<rect x="607" y="75" width="1" height="3" fill="#000"/>
<rect x="606" y="76" width="3" height="2" fill="#000"/>
<rect x="610" y="76" width="1" height="5" fill="#000"/>
<rect x="609" y="76" width="3" height="4" fill="#000"/>
<rect x="610" y="77" width="1" height="2" fill="#fff"/>
<rect x="613" y="80" width="1" height="4" fill="#000"/>
<rect x="612" y="80" width="3" height="4" fill="#000"/>
<rect x="615" y="81" width="1" height="6" fill="#000"/>
<rect x="614" y="81" width="3" height="5" fill="#000"/>
<rect x="618" y="77" width="1" height="6" fill="#000"/>
<rect x="617" y="77" width="3" height="5" fill="#000"/>
<rect x="618" y="78" width="1" height="3" fill="#fff"/>
<rect x="620" y="75" width="1" height="4" fill="#000"/>
<rect x="619" y="75" width="3" height="4" fill="#000"/>
<rect x="620" y="76" width="1" height="2" fill="#fff"/>
<rect x="623" y="66" width="1" height="6" fill="#000"/>
<rect x="622" y="67" width="3" height="3" fill="#000"/>
<rect x="625" y="71" width="1" height="6" fill="#000"/>
<rect x="624" y="71" width="3" height="6" fill="#000"/>
<rect x="625" y="72" width="1" height="4" fill="#fff"/>
<rect x="628" y="68" width="1" height="6" fill="#000"/>
<rect x="627" y="68" width="3" height="6" fill="#000"/>
<rect x="628" y="69" width="1" height="4" fill="#fff"/>
<rect x="630" y="67" width="1" height="3" fill="#000"/>
<rect x="629" y="68" width="3" height="2" fill="#000"/>
<rect x="633" y="66" width="1" height="4" fill="#000"/>
<rect x="632" y="66" width="3" height="3" fill="#000"/>
<rect x="635" y="57" width="1" height="13" fill="#000"/>
<rect x="634" y="61" width="3" height="9" fill="#000"/>
<rect x="635" y="62" width="1" height="7" fill="#fff"/>
<rect x="638" y="60" width="1" height="3" fill="#000"/>
<rect x="637" y="60" width="3" height="3" fill="#000"/>
<rect x="640" y="65" width="1" height="4" fill="#000"/>
<rect x="639" y="65" width="3" height="4" fill="#000"/>
<rect x="643" y="78" width="1" height="10" fill="#000"/>
<rect x="642" y="78" width="3" height="2" fill="#000"/>
<rect x="645" y="72" width="1" height="5" fill="#000"/>
<rect x="644" y="72" width="3" height="5" fill="#000"/>
<rect x="645" y="73" width="1" height="3" fill="#fff"/>
<rect x="648" y="69" width="1" height="2" fill="#000"/>
<rect x="647" y="69" width="3" height="2" fill="#000"/>
<rect x="650" y="68" width="1" height="4" fill="#000"/>
<rect x="649" y="68" width="3" height="4" fill="#000"/>
<rect x="650" y="69" width="1" height="2" fill="#fff"/>
<rect x="653" y="62" width="1" height="3" fill="#000"/>
<rect x="652" y="62" width="3" height="3" fill="#000"/>
<rect x="655" y="64" width="1" height="3" fill="#000"/>
<rect x="654" y="64" width="3" height="3" fill="#000"/>
<rect x="658" y="62" width="1" height="5" fill="#000"/>
<rect x="657" y="62" width="3" height="5" fill="#000"/>
<rect x="660" y="59" width="1" height="7" fill="#000"/>
<rect x="659" y="59" width="3" height="7" fill="#000"/>
<rect x="660" y="60" width="1" height="5" fill="#fff"/>
<rect x="663" y="59" width="1" height="3" fill="#000"/>
<rect x="662" y="60" width="3" height="2" fill="#000"/>
<rect x="666" y="60" width="1" height="3" fill="#000"/>
<rect x="665" y="60" width="3" height="3" fill="#000"/>
<rect x="668" y="62" width="1" height="5" fill="#000"/>
<rect x="667" y="63" width="3" height="4" fill="#000"/>
<rect x="668" y="64" width="1" height="2" fill="#fff"/>
<rect x="671" y="62" width="1" height="3" fill="#000"/>
<rect x="670" y="62" width="3" height="2" fill="#000"/>
<rect x="673" y="55" width="1" height="8" fill="#000"/>
<rect x="672" y="55" width="3" height="8" fill="#000"/>
<rect x="673" y="56" width="1" height="6" fill="#fff"/>
<rect x="676" y="55" width="1" height="3" fill="#000"/>
<rect x="675" y="56" width="3" height="2" fill="#000"/>
<rect x="678" y="54" width="1" height="5" fill="#000"/>
<rect x="677" y="54" width="3" height="4" fill="#000"/>
<rect x="678" y="55" width="1" height="2" fill="#fff"/>
<rect x="681" y="44" width="1" height="5" fill="#000"/>
<rect x="680" y="46" width="3" height="3" fill="#000"/>
<rect x="683" y="46" width="1" height="5" fill="#000"/>
<rect x="682" y="47" width="3" height="4" fill="#000"/>
<rect x="686" y="39" width="1" height="9" fill="#000"/>
<rect x="685" y="39" width="3" height="9" fill="#000"/>
<rect x="686" y="40" width="1" height="7" fill="#fff"/>
<rect x="688" y="35" width="1" height="2" fill="#000"/>
<rect x="687" y="35" width="3" height="2" fill="#000"/>
<rect x="691" y="34" width="1" height="3" fill="#000"/>
<rect x="690" y="34" width="3" height="3" fill="#000"/>
<rect x="691" y="35" width="1" height="1" fill="#fff"/>
<rect x="693" y="35" width="1" height="3" fill="#000"/>
<rect x="692" y="35" width="3" height="3" fill="#000"/>
<rect x="693" y="36" width="1" height="1" fill="#fff"/>
<rect x="696" y="32" width="1" height="6" fill="#000"/>
<rect x="695" y="32" width="3" height="6" fill="#000"/>
<rect x="696" y="33" width="1" height="4" fill="#fff"/>
<rect x="698" y="29" width="1" height="4" fill="#000"/>
<rect x="697" y="29" width="3" height="2" fill="#000"/>
<rect x="701" y="23" width="1" height="7" fill="#000"/>
<rect x="700" y="25" width="3" height="5" fill="#000"/>
<rect x="701" y="26" width="1" height="3" fill="#fff"/>
<rect x="703" y="26" width="1" height="3" fill="#000"/>
<rect x="702" y="26" width="3" height="3" fill="#000"/>
<rect x="703" y="27" width="1" height="1" fill="#fff"/>
<rect x="706" y="27" width="1" height="3" fill="#000"/>
<rect x="705" y="27" width="3" height="3" fill="#000"/>
<rect x="708" y="24" width="1" height="4" fill="#000"/>
<rect x="707" y="26" width="3" height="2" fill="#000"/>
<rect x="711" y="20" width="1" height="6" fill="#000"/>
<rect x="710" y="22" width="3" height="4" fill="#000"/>
<rect x="711" y="23" width="1" height="2" fill="#fff"/>
<rect x="713" y="35" width="1" height="9" fill="#000"/>
<rect x="712" y="36" width="3" height="2" fill="#000"/>
<rect x="3" y="5" width="1" height="294" fill="#000"/>
<rect x="719" y="5" width="1" height="294" fill="#000"/>
<rect x="3" y="298" width="717" height="1" fill="#000"/>
<rect x="3" y="5" width="7" height="1" fill="#000"/>
<rect x="444" y="5" width="276" height="1" fill="#000"/>
<text x="9.16 16.16 23.16 30.16" y="310" fill="#000" font-family="Liberation Sans, Arial, sans-serif" font-size="12px">2025</text>
<rect x="83" y="299" width="1" height="7" fill="#000"/>
<text x="87.5 96.17 103" y="310" fill="#000" font-family="Liberation Sans, Arial, sans-serif" font-size="12px">Mar</text>
<rect x="136" y="299" width="1" height="7" fill="#000"/>
<text x="139.5 147.16 154" y="310" fill="#000" font-family="Liberation Sans, Arial, sans-serif" font-size="12px">Apr</text>
<rect x="189" y="299" width="1" height="7" fill="#000"/>
<text x="193.5 202.16 208.5" y="310" fill="#000" font-family="Liberation Sans, Arial, sans-serif" font-size="12px">May</text>
<rect x="242" y="299" width="1" height="7" fill="#000"/>
<text x="246 252.16 259.17" y="310" fill="#000" font-family="Liberation Sans, Arial, sans-serif" font-size="12px">Jun</text>
<rect x="292" y="299" width="1" height="7" fill="#000"/>
<text x="296 302.17 309.17" y="310" fill="#000" font-family="Liberation Sans, Arial, sans-serif" font-size="12px">Jul</text>
<rect x="348" y="299" width="1" height="7" fill="#000"/>
<text x="351.5 359.17 366.17" y="310" fill="#000" font-family="Liberation Sans, Arial, sans-serif" font-size="12px">Aug</text>
<rect x="401" y="299" width="1" height="7" fill="#000"/>
<text x="405 413.17 420.17" y="310" fill="#000" font-family="Liberation Sans, Arial, sans-serif" font-size="12px">Sep</text>
<rect x="454" y="299" width="1" height="7" fill="#000"/>
<text x="457.83 467 472.83" y="310" fill="#000" font-family="Liberation Sans, Arial, sans-serif" font-size="12px">Oct</text>
<rect x="511" y="299" width="1" height="7" fill="#000"/>
<text x="515.16 524.16 530.5" y="310" fill="#000" font-family="Liberation Sans, Arial, sans-serif" font-size="12px">Nov</text>
<rect x="560" y="299" width="1" height="7" fill="#000"/>
<text x="564.16 573.16 580" y="310" fill="#000" font-family="Liberation Sans, Arial, sans-serif" font-size="12px">Dec</text>
<rect x="615" y="299" width="1" height="7" fill="#000"/>
<text x="619.16 626.16 633.16 640.16" y="310" fill="#000" font-family="Liberation Sans, Arial, sans-serif" font-size="12px">2026</text>
<rect x="666" y="299" width="1" height="7" fill="#000"/>
<text x="669.84 677.16 684.16" y="310" fill="#000" font-family="Liberation Sans, Arial, sans-serif" font-size="12px">Feb</text>
<rect x="714" y="299" width="1" height="7" fill="#000"/>
<text x="718.5 727.16 734" y="310" fill="#000" font-family="Liberation Sans, Arial, sans-serif" font-size="12px">Mar</text>
<path d="M4 323.5H719" stroke="#000" stroke-width="1" stroke-dasharray="1 7" fill="none"/>
<rect x="720" y="323" width="4" height="1" fill="#000"/>
<text x="759.16 765.84 769.16" y="327" fill="#000" font-family="Liberation Sans, Arial, sans-serif" font-size="12px">1.5</text>
<path d="M4 341.5H719" stroke="#000" stroke-width="1" stroke-dasharray="1 7" fill="none"/>
<rect x="720" y="341" width="4" height="1" fill="#000"/>
<text x="759.16 765.84 769.16" y="345" fill="#000" font-family="Liberation Sans, Arial, sans-serif" font-size="12px">1.0</text>
<path d="M4 359.5H719" stroke="#000" stroke-width="1" stroke-dasharray="1 7" fill="none"/>
<rect x="720" y="359" width="4" height="1" fill="#000"/>
<text x="759.16 765.84 769.16" y="363" fill="#000" font-family="Liberation Sans, Arial, sans-serif" font-size="12px">0.5</text>
<path d="M4 378.5H719" stroke="#000" stroke-width="1" stroke-dasharray="1 7" fill="none"/>
<rect x="720" y="378" width="4" height="1" fill="#000"/>
<text x="759.16 765.84 769.16" y="382" fill="#000" font-family="Liberation Sans, Arial, sans-serif" font-size="12px">0.0</text>
<path d="M4 396.5H719" stroke="#000" stroke-width="1" stroke-dasharray="1 7" fill="none"/>
<rect x="720" y="396" width="4" height="1" fill="#000"/>
<text x="755 759.16 765.84 769.16" y="400" fill="#000" font-family="Liberation Sans, Arial, sans-serif" font-size="12px">-0.5</text>
</g>
<clipPath id="c2"><rect x="4" y="320" width="715" height="93"/></clipPath>
<g clip-path="url(#c2)" shape-rendering="crispEdges">
<path d="M60.5 330.5 L63.5 336.5 L65.5 339.5 L68.5 338.5 L70.5 338.5 L73.5 337.5 L75.5 336.5 L78.5 334.5 L80.5 333.5 L83.5 333.5 L85.5 335.5 L88.5 340.5 L91.5 346.5 L93.5 355.5 L96.5 358.5 L98.5 360.5 L101.5 363.5 L103.5 366.5 L106.5 369.5 L108.5 371.5 L111.5 369.5 L113.5 367.5 L116.5 365.5 L118.5 367.5 L121.5 371.5 L123.5 377.5 L126.5 383.5 L128.5 389.5 L131.5 393.5 L133.5 395.5 L136.5 393.5 L138.5 388.5 L141.5 380.5 L144.5 381.5 L146.5 382.5 L149.5 385.5 L151.5 388.5 L154.5 394.5 L156.5 398.5 L159.5 399.5 L161.5 400.5 L164.5 400.5 L166.5 400.5 L169.5 402.5 L171.5 399.5 L174.5 395.5 L176.5 390.5 L179.5 383.5 L181.5 378.5 L184.5 376.5 L186.5 376.5 L189.5 377.5 L191.5 381.5 L194.5 381.5 L196.5 377.5 L199.5 371.5 L202.5 363.5 L204.5 354.5 L207.5 350.5 L209.5 350.5 L212.5 352.5 L214.5 353.5 L217.5 352.5 L219.5 350.5 L222.5 354.5 L224.5 359.5 L227.5 364.5 L229.5 369.5 L232.5 371.5 L234.5 372.5 L237.5 372.5 L239.5 370.5 L242.5 366.5 L244.5 362.5 L247.5 361.5 L249.5 360.5 L252.5 358.5 L255.5 356.5 L257.5 351.5 L260.5 346.5 L262.5 342.5 L265.5 341.5 L267.5 341.5 L270.5 340.5 L272.5 337.5 L275.5 332.5 L277.5 327.5 L280.5 321.5 L282.5 319.5 L285.5 318.5 L287.5 316.5 L290.5 315.5 L292.5 316.5 L295.5 318.5 L297.5 319.5 L300.5 320.5 L302.5 325.5 L305.5 332.5 L307.5 336.5 L310.5 341.5 L313.5 346.5 L315.5 350.5 L318.5 353.5 L320.5 355.5 L323.5 356.5 L325.5 357.5 L328.5 358.5 L330.5 358.5 L333.5 361.5 L335.5 363.5 L338.5 366.5 L340.5 368.5 L343.5 369.5 L345.5 367.5 L348.5 364.5 L350.5 362.5 L353.5 359.5 L355.5 356.5 L358.5 353.5 L360.5 349.5 L363.5 346.5 L366.5 341.5 L368.5 339.5 L371.5 337.5 L373.5 338.5 L376.5 342.5 L378.5 343.5 L381.5 344.5 L383.5 345.5 L386.5 345.5 L388.5 346.5 L391.5 346.5 L393.5 347.5 L396.5 348.5 L398.5 354.5 L401.5 359.5 L403.5 363.5 L406.5 361.5 L408.5 358.5 L411.5 354.5 L413.5 349.5 L416.5 345.5 L419.5 342.5 L421.5 338.5 L424.5 335.5 L426.5 331.5 L429.5 329.5 L431.5 328.5 L434.5 327.5 L436.5 329.5 L439.5 330.5 L441.5 330.5 L444.5 331.5 L446.5 332.5 L449.5 332.5 L451.5 332.5 L454.5 332.5 L456.5 334.5 L459.5 337.5 L461.5 342.5 L464.5 346.5 L466.5 350.5 L469.5 354.5 L471.5 357.5 L474.5 359.5 L477.5 360.5 L479.5 359.5 L482.5 356.5 L484.5 353.5 L487.5 349.5 L489.5 346.5 L492.5 343.5 L494.5 341.5 L497.5 339.5 L499.5 337.5 L502.5 337.5 L504.5 340.5 L507.5 342.5 L509.5 344.5 L512.5 346.5 L514.5 348.5 L517.5 350.5 L519.5 353.5 L522.5 356.5 L524.5 359.5 L527.5 362.5 L530.5 365.5 L532.5 368.5 L535.5 374.5 L537.5 381.5 L540.5 386.5 L542.5 390.5 L545.5 393.5 L547.5 395.5 L550.5 396.5 L552.5 395.5 L555.5 392.5 L557.5 388.5 L560.5 385.5 L562.5 383.5 L565.5 382.5 L567.5 381.5 L570.5 381.5 L572.5 383.5 L575.5 384.5 L577.5 384.5 L580.5 385.5 L583.5 385.5 L585.5 385.5 L588.5 384.5 L590.5 383.5 L593.5 381.5 L595.5 380.5 L598.5 379.5 L600.5 382.5 L603.5 381.5 L605.5 379.5 L608.5 378.5 L610.5 377.5 L613.5 376.5 L615.5 375.5 L618.5 374.5 L620.5 372.5 L623.5 369.5 L625.5 367.5 L628.5 364.5 L630.5 361.5 L633.5 359.5 L635.5 357.5 L638.5 355.5 L641.5 357.5 L643.5 358.5 L646.5 358.5 L648.5 358.5 L651.5 357.5 L653.5 357.5 L656.5 358.5 L658.5 357.5 L661.5 357.5 L663.5 356.5 L666.5 356.5 L668.5 357.5 L671.5 357.5 L673.5 357.5 L676.5 357.5 L678.5 357.5 L681.5 357.5 L683.5 356.5 L686.5 354.5 L688.5 352.5 L691.5 348.5 L694.5 345.5 L696.5 342.5 L699.5 340.5 L701.5 338.5 L704.5 336.5 L706.5 335.5 L709.5 334.5 L711.5 334.5" stroke="#00f" stroke-width="1" fill="none"/>
<path d="M84 334h3v3h-3zM87 335h3v3h-3zM90 338h3v3h-3zM92 340h3v3h-3zM95 344h3v3h-3zM97 347h3v3h-3zM100 350h3v3h-3zM102 353h3v3h-3zM105 355h3v3h-3zM107 358h3v3h-3zM110 359h3v3h-3zM112 360h3v3h-3zM115 361h3v3h-3zM117 362h3v3h-3zM120 363h3v3h-3zM122 366h3v3h-3zM125 370h3v3h-3zM127 373h3v3h-3zM130 376h3v3h-3zM132 378h3v3h-3zM135 381h3v3h-3zM137 381h3v3h-3zM140 381h3v3h-3zM143 381h3v3h-3zM145 380h3v3h-3zM148 381h3v3h-3zM150 381h3v3h-3zM153 383h3v3h-3zM155 385h3v3h-3zM158 388h3v3h-3zM160 390h3v3h-3zM163 392h3v3h-3zM165 394h3v3h-3zM168 395h3v3h-3zM170 396h3v3h-3zM173 395h3v3h-3zM175 394h3v3h-3zM178 392h3v3h-3zM180 389h3v3h-3zM183 387h3v3h-3zM185 385h3v3h-3zM188 384h3v3h-3zM190 383h3v3h-3zM193 382h3v3h-3zM195 381h3v3h-3zM198 379h3v3h-3zM201 377h3v3h-3zM203 373h3v3h-3zM205 371h3v3h-3zM206 368h3v3h-3zM208 364h3v3h-3zM211 361h3v3h-3zM213 359h3v3h-3zM216 357h3v3h-3zM218 356h3v3h-3zM221 355h3v3h-3zM223 356h3v3h-3zM226 356h3v3h-3zM228 358h3v3h-3zM231 361h3v3h-3zM233 363h3v3h-3zM236 365h3v3h-3zM238 366h3v3h-3zM241 365h3v3h-3zM243 365h3v3h-3zM246 364h3v3h-3zM248 362h3v3h-3zM251 360h3v3h-3zM254 358h3v3h-3zM256 357h3v3h-3zM259 355h3v3h-3zM261 353h3v3h-3zM264 352h3v3h-3zM266 350h3v3h-3zM269 348h3v3h-3zM271 345h3v3h-3zM274 343h3v3h-3zM276 341h3v3h-3zM279 338h3v3h-3zM281 336h3v3h-3zM284 333h3v3h-3zM286 331h3v3h-3zM289 329h3v3h-3zM291 328h3v3h-3zM294 328h3v3h-3zM296 328h3v3h-3zM299 328h3v3h-3zM301 328h3v3h-3zM304 329h3v3h-3zM306 330h3v3h-3zM309 332h3v3h-3zM312 334h3v3h-3zM314 337h3v3h-3zM317 340h3v3h-3zM319 342h3v3h-3zM322 345h3v3h-3zM324 347h3v3h-3zM327 349h3v3h-3zM329 351h3v3h-3zM332 353h3v3h-3zM334 355h3v3h-3zM337 357h3v3h-3zM339 359h3v3h-3zM342 361h3v3h-3zM344 362h3v3h-3zM347 362h3v3h-3zM349 362h3v3h-3zM352 361h3v3h-3zM354 359h3v3h-3zM357 357h3v3h-3zM359 355h3v3h-3zM362 352h3v3h-3zM365 350h3v3h-3zM367 347h3v3h-3zM370 346h3v3h-3zM372 345h3v3h-3zM375 344h3v3h-3zM377 344h3v3h-3zM380 344h3v3h-3zM382 345h3v3h-3zM385 345h3v3h-3zM387 345h3v3h-3zM390 345h3v3h-3zM392 346h3v3h-3zM395 347h3v3h-3zM397 348h3v3h-3zM400 350h3v3h-3zM402 352h3v3h-3zM405 353h3v3h-3zM407 354h3v3h-3zM410 353h3v3h-3zM412 351h3v3h-3zM415 350h3v3h-3zM418 348h3v3h-3zM420 346h3v3h-3zM423 345h3v3h-3zM425 342h3v3h-3zM428 340h3v3h-3zM430 338h3v3h-3zM433 335h3v3h-3zM435 334h3v3h-3zM438 332h3v3h-3zM440 332h3v3h-3zM443 331h3v3h-3zM445 331h3v3h-3zM448 331h3v3h-3zM450 331h3v3h-3zM453 330h3v3h-3zM455 331h3v3h-3zM458 332h3v3h-3zM460 334h3v3h-3zM463 336h3v3h-3zM465 339h3v3h-3zM468 341h3v3h-3zM470 344h3v3h-3zM473 346h3v3h-3zM476 349h3v3h-3zM478 351h3v3h-3zM481 351h3v3h-3zM483 351h3v3h-3zM486 350h3v3h-3zM488 349h3v3h-3zM491 347h3v3h-3zM493 346h3v3h-3zM496 345h3v3h-3zM498 344h3v3h-3zM501 343h3v3h-3zM503 342h3v3h-3zM506 342h3v3h-3zM508 342h3v3h-3zM511 343h3v3h-3zM513 343h3v3h-3zM516 345h3v3h-3zM518 347h3v3h-3zM521 349h3v3h-3zM523 351h3v3h-3zM526 353h3v3h-3zM529 355h3v3h-3zM531 358h3v3h-3zM534 361h3v3h-3zM536 365h3v3h-3zM539 369h3v3h-3zM541 372h3v3h-3zM544 376h3v3h-3zM546 379h3v3h-3zM549 382h3v3h-3zM551 384h3v3h-3zM554 385h3v3h-3zM556 385h3v3h-3zM559 385h3v3h-3zM561 385h3v3h-3zM564 384h3v3h-3zM566 384h3v3h-3zM569 383h3v3h-3zM571 382h3v3h-3zM574 383h3v3h-3zM576 383h3v3h-3zM579 384h3v3h-3zM582 384h3v3h-3zM584 384h3v3h-3zM587 384h3v3h-3zM589 383h3v3h-3zM592 382h3v3h-3zM594 381h3v3h-3zM597 381h3v3h-3zM599 381h3v3h-3zM602 380h3v3h-3zM604 380h3v3h-3zM607 380h3v3h-3zM609 380h3v3h-3zM612 380h3v3h-3zM614 380h3v3h-3zM617 380h3v3h-3zM619 379h3v3h-3zM622 378h3v3h-3zM624 376h3v3h-3zM627 373h3v3h-3zM629 371h3v3h-3zM632 369h3v3h-3zM634 367h3v3h-3zM637 365h3v3h-3zM640 364h3v3h-3zM642 363h3v3h-3zM645 361h3v3h-3zM647 360h3v3h-3zM650 360h3v3h-3zM652 359h3v3h-3zM655 358h3v3h-3zM657 358h3v3h-3zM660 357h3v3h-3zM662 357h3v3h-3zM665 357h3v3h-3zM667 357h3v3h-3zM670 357h3v3h-3zM672 357h3v3h-3zM675 357h3v3h-3zM677 357h3v3h-3zM680 357h3v3h-3zM682 356h3v3h-3zM685 355h3v3h-3zM687 353h3v3h-3zM690 351h3v3h-3zM693 349h3v3h-3zM695 347h3v3h-3zM698 346h3v3h-3zM700 344h3v3h-3zM703 342h3v3h-3zM705 341h3v3h-3zM708 340h3v3h-3zM710 339h3v3h-3z" fill="#00f"/>
<path d="M35.5 346.5 L38.5 347.5 L40.5 345.5 L43.5 343.5 L45.5 345.5 L48.5 349.5 L50.5 355.5 L53.5 359.5 L55.5 360.5 L58.5 361.5 L60.5 365.5 L63.5 369.5 L65.5 372.5 L68.5 374.5 L70.5 372.5 L73.5 365.5 L75.5 359.5 L78.5 356.5 L80.5 352.5 L83.5 350.5 L85.5 348.5 L88.5 350.5 L91.5 353.5 L93.5 357.5 L96.5 363.5 L98.5 371.5 L101.5 382.5 L103.5 389.5 L106.5 394.5 L108.5 397.5 L111.5 398.5 L113.5 393.5 L116.5 389.5 L118.5 384.5 L121.5 384.5 L123.5 383.5 L126.5 381.5 L128.5 379.5 L131.5 377.5 L133.5 375.5 L136.5 373.5 L138.5 370.5 L141.5 368.5 L144.5 369.5 L146.5 373.5 L149.5 379.5 L151.5 386.5 L154.5 393.5 L156.5 398.5 L159.5 402.5 L161.5 406.5 L164.5 408.5 L166.5 410.5 L169.5 409.5 L171.5 404.5 L174.5 394.5 L176.5 382.5 L179.5 368.5 L181.5 355.5 L184.5 349.5 L186.5 347.5 L189.5 348.5 L191.5 349.5 L194.5 351.5 L196.5 351.5 L199.5 353.5 L202.5 357.5 L204.5 360.5 L207.5 369.5 L209.5 377.5 L212.5 381.5 L214.5 382.5 L217.5 379.5 L219.5 378.5 L222.5 379.5 L224.5 382.5 L227.5 385.5 L229.5 385.5 L232.5 382.5 L234.5 377.5 L237.5 371.5 L239.5 368.5 L242.5 365.5 L244.5 361.5 L247.5 356.5 L249.5 352.5 L252.5 351.5 L255.5 351.5 L257.5 351.5 L260.5 350.5 L262.5 351.5 L265.5 352.5 L267.5 353.5 L270.5 354.5 L272.5 354.5 L275.5 354.5 L277.5 353.5 L280.5 352.5 L282.5 351.5 L285.5 351.5 L287.5 351.5 L290.5 349.5 L292.5 348.5 L295.5 348.5 L297.5 349.5 L300.5 352.5 L302.5 355.5 L305.5 358.5 L307.5 362.5 L310.5 367.5 L313.5 373.5 L315.5 379.5 L318.5 383.5 L320.5 385.5 L323.5 387.5 L325.5 384.5 L328.5 380.5 L330.5 379.5 L333.5 378.5 L335.5 375.5 L338.5 371.5 L340.5 368.5 L343.5 365.5 L345.5 362.5 L348.5 358.5 L350.5 356.5 L353.5 354.5 L355.5 352.5 L358.5 351.5 L360.5 351.5 L363.5 351.5 L366.5 351.5 L368.5 353.5 L371.5 355.5 L373.5 358.5 L376.5 363.5 L378.5 366.5 L381.5 369.5 L383.5 371.5 L386.5 373.5 L388.5 373.5 L391.5 374.5 L393.5 374.5 L396.5 374.5 L398.5 373.5 L401.5 372.5 L403.5 371.5 L406.5 367.5 L408.5 363.5 L411.5 358.5 L413.5 353.5 L416.5 348.5 L419.5 344.5 L421.5 340.5 L424.5 337.5 L426.5 334.5 L429.5 333.5 L431.5 337.5 L434.5 343.5 L436.5 350.5 L439.5 355.5 L441.5 360.5 L444.5 365.5 L446.5 369.5 L449.5 371.5 L451.5 373.5 L454.5 373.5 L456.5 373.5 L459.5 373.5 L461.5 373.5 L464.5 372.5 L466.5 371.5 L469.5 369.5 L471.5 367.5 L474.5 366.5 L477.5 364.5 L479.5 362.5 L482.5 360.5 L484.5 357.5 L487.5 354.5 L489.5 352.5 L492.5 351.5 L494.5 350.5 L497.5 349.5 L499.5 349.5 L502.5 350.5 L504.5 354.5 L507.5 358.5 L509.5 363.5 L512.5 368.5 L514.5 373.5 L517.5 377.5 L519.5 382.5 L522.5 385.5 L524.5 388.5 L527.5 389.5 L530.5 389.5 L532.5 388.5 L535.5 388.5 L537.5 389.5 L540.5 388.5 L542.5 387.5 L545.5 386.5 L547.5 386.5 L550.5 384.5 L552.5 382.5 L555.5 378.5 L557.5 375.5 L560.5 373.5 L562.5 371.5 L565.5 369.5 L567.5 369.5 L570.5 369.5 L572.5 372.5 L575.5 375.5 L577.5 378.5 L580.5 381.5 L583.5 384.5 L585.5 386.5 L588.5 387.5 L590.5 387.5 L593.5 386.5 L595.5 384.5 L598.5 381.5 L600.5 379.5 L603.5 376.5 L605.5 374.5 L608.5 372.5 L610.5 371.5 L613.5 371.5 L615.5 370.5 L618.5 369.5 L620.5 368.5 L623.5 366.5 L625.5 365.5 L628.5 365.5 L630.5 364.5 L633.5 364.5 L635.5 363.5 L638.5 362.5 L641.5 363.5 L643.5 364.5 L646.5 365.5 L648.5 366.5 L651.5 367.5 L653.5 368.5 L656.5 369.5 L658.5 371.5 L661.5 371.5 L663.5 371.5 L666.5 371.5 L668.5 370.5 L671.5 369.5 L673.5 368.5 L676.5 366.5 L678.5 365.5 L681.5 364.5 L683.5 363.5 L686.5 361.5 L688.5 359.5 L691.5 356.5 L694.5 354.5 L696.5 351.5 L699.5 349.5 L701.5 347.5 L704.5 347.5 L706.5 349.5 L709.5 349.5 L711.5 350.5" stroke="#808000" stroke-width="1" fill="none"/>
<path d="M59 353h3v3h-3zM62 355h3v3h-3zM64 358h3v3h-3zM67 361h3v3h-3zM69 363h3v3h-3zM72 363h3v3h-3zM74 363h3v3h-3zM77 361h3v3h-3zM79 359h3v3h-3zM82 357h3v3h-3zM84 355h3v3h-3zM87 354h3v3h-3zM90 354h3v3h-3zM92 355h3v3h-3zM95 356h3v3h-3zM97 358h3v3h-3zM100 361h3v3h-3zM101 363h3v3h-3zM102 366h3v3h-3zM103 369h3v3h-3zM105 371h3v3h-3zM106 373h3v3h-3zM107 376h3v3h-3zM110 380h3v3h-3zM112 382h3v3h-3zM115 383h3v3h-3zM117 384h3v3h-3zM120 384h3v3h-3zM122 383h3v3h-3zM125 382h3v3h-3zM127 381h3v3h-3zM130 380h3v3h-3zM132 379h3v3h-3zM135 378h3v3h-3zM137 377h3v3h-3zM140 376h3v3h-3zM143 374h3v3h-3zM145 374h3v3h-3zM148 374h3v3h-3zM150 376h3v3h-3zM153 378h3v3h-3zM154 381h3v3h-3zM155 383h3v3h-3zM158 387h3v3h-3zM160 390h3v3h-3zM163 393h3v3h-3zM165 395h3v3h-3zM168 397h3v3h-3zM170 398h3v3h-3zM173 398h3v3h-3zM175 395h3v3h-3zM177 393h3v3h-3zM178 390h3v3h-3zM179 387h3v3h-3zM180 385h3v3h-3zM181 382h3v3h-3zM183 379h3v3h-3zM184 376h3v3h-3zM185 373h3v3h-3zM188 369h3v3h-3zM190 365h3v3h-3zM193 362h3v3h-3zM195 360h3v3h-3zM198 358h3v3h-3zM201 357h3v3h-3zM203 358h3v3h-3zM206 361h3v3h-3zM208 364h3v3h-3zM211 366h3v3h-3zM213 369h3v3h-3zM216 370h3v3h-3zM218 372h3v3h-3zM221 374h3v3h-3zM223 375h3v3h-3zM226 376h3v3h-3zM228 377h3v3h-3zM231 377h3v3h-3zM233 376h3v3h-3zM236 375h3v3h-3zM238 373h3v3h-3zM241 372h3v3h-3zM243 369h3v3h-3zM246 366h3v3h-3zM248 364h3v3h-3zM251 363h3v3h-3zM254 361h3v3h-3zM256 359h3v3h-3zM259 357h3v3h-3zM261 356h3v3h-3zM264 354h3v3h-3zM266 354h3v3h-3zM269 354h3v3h-3zM271 354h3v3h-3zM274 354h3v3h-3zM276 354h3v3h-3zM279 353h3v3h-3zM281 352h3v3h-3zM284 352h3v3h-3zM286 351h3v3h-3zM289 351h3v3h-3zM291 350h3v3h-3zM294 350h3v3h-3zM296 350h3v3h-3zM299 349h3v3h-3zM301 350h3v3h-3zM304 351h3v3h-3zM306 353h3v3h-3zM309 356h3v3h-3zM312 359h3v3h-3zM314 362h3v3h-3zM317 365h3v3h-3zM319 368h3v3h-3zM322 371h3v3h-3zM324 373h3v3h-3zM327 374h3v3h-3zM329 375h3v3h-3zM332 375h3v3h-3zM334 375h3v3h-3zM337 374h3v3h-3zM339 373h3v3h-3zM342 371h3v3h-3zM344 369h3v3h-3zM347 367h3v3h-3zM349 364h3v3h-3zM352 362h3v3h-3zM354 360h3v3h-3zM357 359h3v3h-3zM359 357h3v3h-3zM362 356h3v3h-3zM365 355h3v3h-3zM367 354h3v3h-3zM370 354h3v3h-3zM372 355h3v3h-3zM375 356h3v3h-3zM377 358h3v3h-3zM380 360h3v3h-3zM382 362h3v3h-3zM385 363h3v3h-3zM387 365h3v3h-3zM390 366h3v3h-3zM392 367h3v3h-3zM395 368h3v3h-3zM397 369h3v3h-3zM400 369h3v3h-3zM402 369h3v3h-3zM405 369h3v3h-3zM407 367h3v3h-3zM410 365h3v3h-3zM412 363h3v3h-3zM415 360h3v3h-3zM418 358h3v3h-3zM420 355h3v3h-3zM423 352h3v3h-3zM425 349h3v3h-3zM428 346h3v3h-3zM430 344h3v3h-3zM433 344h3v3h-3zM435 344h3v3h-3zM438 346h3v3h-3zM440 348h3v3h-3zM443 350h3v3h-3zM445 353h3v3h-3zM448 355h3v3h-3zM450 358h3v3h-3zM453 360h3v3h-3zM455 363h3v3h-3zM458 364h3v3h-3zM460 366h3v3h-3zM463 367h3v3h-3zM465 367h3v3h-3zM468 367h3v3h-3zM470 367h3v3h-3zM473 367h3v3h-3zM476 366h3v3h-3zM478 365h3v3h-3zM481 364h3v3h-3zM483 362h3v3h-3zM486 360h3v3h-3zM488 359h3v3h-3zM491 357h3v3h-3zM493 355h3v3h-3zM496 354h3v3h-3zM498 353h3v3h-3zM501 353h3v3h-3zM503 353h3v3h-3zM506 354h3v3h-3zM508 356h3v3h-3zM511 358h3v3h-3zM513 361h3v3h-3zM516 364h3v3h-3zM518 368h3v3h-3zM521 371h3v3h-3zM523 373h3v3h-3zM526 376h3v3h-3zM529 378h3v3h-3zM531 379h3v3h-3zM534 381h3v3h-3zM536 382h3v3h-3zM539 384h3v3h-3zM541 384h3v3h-3zM544 385h3v3h-3zM546 385h3v3h-3zM549 384h3v3h-3zM551 383h3v3h-3zM554 383h3v3h-3zM556 381h3v3h-3zM559 380h3v3h-3zM561 378h3v3h-3zM564 377h3v3h-3zM566 375h3v3h-3zM569 374h3v3h-3zM571 374h3v3h-3zM574 374h3v3h-3zM576 375h3v3h-3zM579 377h3v3h-3zM582 379h3v3h-3zM584 380h3v3h-3zM587 381h3v3h-3zM589 382h3v3h-3zM592 382h3v3h-3zM594 382h3v3h-3zM597 381h3v3h-3zM599 381h3v3h-3zM602 379h3v3h-3zM604 378h3v3h-3zM607 377h3v3h-3zM609 376h3v3h-3zM612 375h3v3h-3zM614 374h3v3h-3zM617 373h3v3h-3zM619 372h3v3h-3zM622 371h3v3h-3zM624 370h3v3h-3zM627 368h3v3h-3zM629 367h3v3h-3zM632 366h3v3h-3zM634 365h3v3h-3zM637 365h3v3h-3zM640 364h3v3h-3zM642 364h3v3h-3zM645 365h3v3h-3zM647 365h3v3h-3zM650 366h3v3h-3zM652 366h3v3h-3zM655 367h3v3h-3zM657 368h3v3h-3zM660 369h3v3h-3zM662 369h3v3h-3zM665 369h3v3h-3zM667 369h3v3h-3zM670 368h3v3h-3zM672 368h3v3h-3zM675 367h3v3h-3zM677 367h3v3h-3zM680 366h3v3h-3zM682 365h3v3h-3zM685 364h3v3h-3zM687 362h3v3h-3zM690 361h3v3h-3zM693 359h3v3h-3zM695 357h3v3h-3zM698 356h3v3h-3zM700 354h3v3h-3zM703 352h3v3h-3zM705 351h3v3h-3zM708 350h3v3h-3zM710 351h3v3h-3z" fill="#808000"/>
</g>
<g shape-rendering="crispEdges">
<path d="M87 370h3v6h-3zM88 384h1v1h-1zM88 383h1v1h-1zM87 382h3v1h-3zM87 381h3v1h-3zM86 380h5v1h-5zM86 379h5v1h-5zM85 378h7v1h-7zM85 377h7v1h-7zM84 376h9v1h-9z" fill="#f00"/>
<path d="M92 370h3v6h-3zM93 384h1v1h-1zM93 383h1v1h-1zM92 382h3v1h-3zM92 381h3v1h-3zM91 380h5v1h-5zM91 379h5v1h-5zM90 378h7v1h-7zM90 377h7v1h-7zM89 376h9v1h-9z" fill="#f00"/>
<path d="M148 370h3v6h-3zM149 384h1v1h-1zM149 383h1v1h-1zM148 382h3v1h-3zM148 381h3v1h-3zM147 380h5v1h-5zM147 379h5v1h-5zM146 378h7v1h-7zM146 377h7v1h-7zM145 376h9v1h-9z" fill="#f00"/>
<path d="M203 370h3v6h-3zM204 384h1v1h-1zM204 383h1v1h-1zM203 382h3v1h-3zM203 381h3v1h-3zM202 380h5v1h-5zM202 379h5v1h-5zM201 378h7v1h-7zM201 377h7v1h-7zM200 376h9v1h-9z" fill="#f00"/>
<path d="M224 370h3v6h-3zM225 384h1v1h-1zM225 383h1v1h-1zM224 382h3v1h-3zM224 381h3v1h-3zM223 380h5v1h-5zM223 379h5v1h-5zM222 378h7v1h-7zM222 377h7v1h-7zM221 376h9v1h-9z" fill="#f00"/>
<path d="M271 370h3v6h-3zM272 384h1v1h-1zM272 383h1v1h-1zM271 382h3v1h-3zM271 381h3v1h-3zM270 380h5v1h-5zM270 379h5v1h-5zM269 378h7v1h-7zM269 377h7v1h-7zM268 376h9v1h-9z" fill="#f00"/>
<path d="M300 370h3v6h-3zM301 384h1v1h-1zM301 383h1v1h-1zM300 382h3v1h-3zM300 381h3v1h-3zM299 380h5v1h-5zM299 379h5v1h-5zM298 378h7v1h-7zM298 377h7v1h-7zM297 376h9v1h-9z" fill="#f00"/>
<path d="M301 370h3v6h-3zM302 384h1v1h-1zM302 383h1v1h-1zM301 382h3v1h-3zM301 381h3v1h-3zM300 380h5v1h-5zM300 379h5v1h-5zM299 378h7v1h-7zM299 377h7v1h-7zM298 376h9v1h-9z" fill="#f00"/>
<path d="M372 370h3v6h-3zM373 384h1v1h-1zM373 383h1v1h-1zM372 382h3v1h-3zM372 381h3v1h-3zM371 380h5v1h-5zM371 379h5v1h-5zM370 378h7v1h-7zM370 377h7v1h-7zM369 376h9v1h-9z" fill="#f00"/>
<path d="M382 370h3v6h-3zM383 384h1v1h-1zM383 383h1v1h-1zM382 382h3v1h-3zM382 381h3v1h-3zM381 380h5v1h-5zM381 379h5v1h-5zM380 378h7v1h-7zM380 377h7v1h-7zM379 376h9v1h-9z" fill="#f00"/>
<path d="M435 370h3v6h-3zM436 384h1v1h-1zM436 383h1v1h-1zM435 382h3v1h-3zM435 381h3v1h-3zM434 380h5v1h-5zM434 379h5v1h-5zM433 378h7v1h-7zM433 377h7v1h-7zM432 376h9v1h-9z" fill="#f00"/>
<path d="M445 370h3v6h-3zM446 384h1v1h-1zM446 383h1v1h-1zM445 382h3v1h-3zM445 381h3v1h-3zM444 380h5v1h-5zM444 379h5v1h-5zM443 378h7v1h-7zM443 377h7v1h-7zM442 376h9v1h-9z" fill="#f00"/>
<path d="M459 370h3v6h-3zM460 384h1v1h-1zM460 383h1v1h-1zM459 382h3v1h-3zM459 381h3v1h-3zM458 380h5v1h-5zM458 379h5v1h-5zM457 378h7v1h-7zM457 377h7v1h-7zM456 376h9v1h-9z" fill="#f00"/>
<path d="M508 370h3v6h-3zM509 384h1v1h-1zM509 383h1v1h-1zM508 382h3v1h-3zM508 381h3v1h-3zM507 380h5v1h-5zM507 379h5v1h-5zM506 378h7v1h-7zM506 377h7v1h-7zM505 376h9v1h-9z" fill="#f00"/>
<path d="M575 370h3v6h-3zM576 384h1v1h-1zM576 383h1v1h-1zM575 382h3v1h-3zM575 381h3v1h-3zM574 380h5v1h-5zM574 379h5v1h-5zM573 378h7v1h-7zM573 377h7v1h-7zM572 376h9v1h-9z" fill="#f00"/>
<path d="M645 370h3v6h-3zM646 384h1v1h-1zM646 383h1v1h-1zM645 382h3v1h-3zM645 381h3v1h-3zM644 380h5v1h-5zM644 379h5v1h-5zM643 378h7v1h-7zM643 377h7v1h-7zM642 376h9v1h-9z" fill="#f00"/>
<path d="M672 370h3v6h-3zM673 384h1v1h-1zM673 383h1v1h-1zM672 382h3v1h-3zM672 381h3v1h-3zM671 380h5v1h-5zM671 379h5v1h-5zM670 378h7v1h-7zM670 377h7v1h-7zM669 376h9v1h-9z" fill="#f00"/>
<path d="M677 370h3v6h-3zM678 384h1v1h-1zM678 383h1v1h-1zM677 382h3v1h-3zM677 381h3v1h-3zM676 380h5v1h-5zM676 379h5v1h-5zM675 378h7v1h-7zM675 377h7v1h-7zM674 376h9v1h-9z" fill="#f00"/>
<path d="M712 370h3v6h-3zM713 384h1v1h-1zM713 383h1v1h-1zM712 382h3v1h-3zM712 381h3v1h-3zM711 380h5v1h-5zM711 379h5v1h-5zM710 378h7v1h-7zM710 377h7v1h-7zM709 376h9v1h-9z" fill="#f00"/>
<path d="M122 379h3v6h-3zM123 370h1v1h-1zM123 371h1v1h-1zM122 372h3v1h-3zM122 373h3v1h-3zM121 374h5v1h-5zM121 375h5v1h-5zM120 376h7v1h-7zM120 377h7v1h-7zM119 378h9v1h-9z" fill="#009000"/>
<path d="M140 379h3v6h-3zM141 370h1v1h-1zM141 371h1v1h-1zM140 372h3v1h-3zM140 373h3v1h-3zM139 374h5v1h-5zM139 375h5v1h-5zM138 376h7v1h-7zM138 377h7v1h-7zM137 378h9v1h-9z" fill="#009000"/>
<path d="M173 379h3v6h-3zM174 370h1v1h-1zM174 371h1v1h-1zM173 372h3v1h-3zM173 373h3v1h-3zM172 374h5v1h-5zM172 375h5v1h-5zM171 376h7v1h-7zM171 377h7v1h-7zM170 378h9v1h-9z" fill="#009000"/>
<path d="M176 379h3v6h-3zM177 370h1v1h-1zM177 371h1v1h-1zM176 372h3v1h-3zM176 373h3v1h-3zM175 374h5v1h-5zM175 375h5v1h-5zM174 376h7v1h-7zM174 377h7v1h-7zM173 378h9v1h-9z" fill="#009000"/>
<path d="M195 379h3v6h-3zM196 370h1v1h-1zM196 371h1v1h-1zM195 372h3v1h-3zM195 373h3v1h-3zM194 374h5v1h-5zM194 375h5v1h-5zM193 376h7v1h-7zM193 377h7v1h-7zM192 378h9v1h-9z" fill="#009000"/>
<path d="M233 379h3v6h-3zM234 370h1v1h-1zM234 371h1v1h-1zM233 372h3v1h-3zM233 373h3v1h-3zM232 374h5v1h-5zM232 375h5v1h-5zM231 376h7v1h-7zM231 377h7v1h-7zM230 378h9v1h-9z" fill="#009000"/>
<path d="M549 379h3v6h-3zM550 370h1v1h-1zM550 371h1v1h-1zM549 372h3v1h-3zM549 373h3v1h-3zM548 374h5v1h-5zM548 375h5v1h-5zM547 376h7v1h-7zM547 377h7v1h-7zM546 378h9v1h-9z" fill="#009000"/>
<path d="M561 379h3v6h-3zM562 370h1v1h-1zM562 371h1v1h-1zM561 372h3v1h-3zM561 373h3v1h-3zM560 374h5v1h-5zM560 375h5v1h-5zM559 376h7v1h-7zM559 377h7v1h-7zM558 378h9v1h-9z" fill="#009000"/>
<path d="M584 379h3v6h-3zM585 370h1v1h-1zM585 371h1v1h-1zM584 372h3v1h-3zM584 373h3v1h-3zM583 374h5v1h-5zM583 375h5v1h-5zM582 376h7v1h-7zM582 377h7v1h-7zM581 378h9v1h-9z" fill="#009000"/>
<path d="M597 379h3v6h-3zM598 370h1v1h-1zM598 371h1v1h-1zM597 372h3v1h-3zM597 373h3v1h-3zM596 374h5v1h-5zM596 375h5v1h-5zM595 376h7v1h-7zM595 377h7v1h-7zM594 378h9v1h-9z" fill="#009000"/>
<path d="M609 379h3v6h-3zM610 370h1v1h-1zM610 371h1v1h-1zM609 372h3v1h-3zM609 373h3v1h-3zM608 374h5v1h-5zM608 375h5v1h-5zM607 376h7v1h-7zM607 377h7v1h-7zM606 378h9v1h-9z" fill="#009000"/>
<path d="M619 379h3v6h-3zM620 370h1v1h-1zM620 371h1v1h-1zM619 372h3v1h-3zM619 373h3v1h-3zM618 374h5v1h-5zM618 375h5v1h-5zM617 376h7v1h-7zM617 377h7v1h-7zM616 378h9v1h-9z" fill="#009000"/>
<rect x="3" y="319" width="1" height="95" fill="#000"/>
<rect x="719" y="319" width="1" height="95" fill="#000"/>
<rect x="3" y="413" width="717" height="1" fill="#000"/>
<rect x="3" y="319" width="7" height="1" fill="#000"/>
<rect x="422" y="319" width="298" height="1" fill="#000"/>
<path d="M4 449.5H719" stroke="#000" stroke-width="1" stroke-dasharray="1 7" fill="none"/>
<rect x="720" y="449" width="4" height="1" fill="#000"/>
<text x="752.16 759.16 765.84 769.16" y="453" fill="#000" font-family="Liberation Sans, Arial, sans-serif" font-size="12px">55.0</text>
<path d="M4 479.5H719" stroke="#000" stroke-width="1" stroke-dasharray="1 7" fill="none"/>
<rect x="720" y="479" width="4" height="1" fill="#000"/>
<text x="752.16 759.16 765.84 769.16" y="483" fill="#000" font-family="Liberation Sans, Arial, sans-serif" font-size="12px">54.5</text>
<path d="M4 509.5H719" stroke="#000" stroke-width="1" stroke-dasharray="1 7" fill="none"/>
<rect x="720" y="509" width="4" height="1" fill="#000"/>
<text x="752.16 759.16 765.84 769.16" y="513" fill="#000" font-family="Liberation Sans, Arial, sans-serif" font-size="12px">54.0</text>
<path d="M4 539.5H719" stroke="#000" stroke-width="1" stroke-dasharray="1 7" fill="none"/>
<rect x="720" y="539" width="4" height="1" fill="#000"/>
<text x="752.16 759.16 765.84 769.16" y="543" fill="#000" font-family="Liberation Sans, Arial, sans-serif" font-size="12px">53.5</text>
<path d="M4 569.5H719" stroke="#000" stroke-width="1" stroke-dasharray="1 7" fill="none"/>
<rect x="720" y="569" width="4" height="1" fill="#000"/>
<text x="752.16 759.16 765.84 769.16" y="573" fill="#000" font-family="Liberation Sans, Arial, sans-serif" font-size="12px">53.0</text>
<path d="M4 599.5H719" stroke="#000" stroke-width="1" stroke-dasharray="1 7" fill="none"/>
<rect x="720" y="599" width="4" height="1" fill="#000"/>
<text x="752.16 759.16 765.84 769.16" y="603" fill="#000" font-family="Liberation Sans, Arial, sans-serif" font-size="12px">52.5</text>
<path d="M4 629.5H719" stroke="#000" stroke-width="1" stroke-dasharray="1 7" fill="none"/>
<rect x="720" y="629" width="4" height="1" fill="#000"/>
<text x="752.16 759.16 765.84 769.16" y="633" fill="#000" font-family="Liberation Sans, Arial, sans-serif" font-size="12px">52.0</text>
<path d="M4 659.5H719" stroke="#000" stroke-width="1" stroke-dasharray="1 7" fill="none"/>
<rect x="720" y="659" width="4" height="1" fill="#000"/>
<text x="752.16 759.16 765.84 769.16" y="663" fill="#000" font-family="Liberation Sans, Arial, sans-serif" font-size="12px">51.5</text>
<path d="M4 689.5H719" stroke="#000" stroke-width="1" stroke-dasharray="1 7" fill="none"/>
<rect x="720" y="689" width="4" height="1" fill="#000"/>
<text x="752.16 759.16 765.84 769.16" y="693" fill="#000" font-family="Liberation Sans, Arial, sans-serif" font-size="12px">51.0</text>
<path d="M4 719.5H719" stroke="#000" stroke-width="1" stroke-dasharray="1 7" fill="none"/>
<rect x="720" y="719" width="4" height="1" fill="#000"/>
<text x="752.16 759.16 765.84 769.16" y="723" fill="#000" font-family="Liberation Sans, Arial, sans-serif" font-size="12px">50.5</text>
<path d="M615.5 431V728" stroke="#000" stroke-width="1" stroke-dasharray="1 7" fill="none"/>
</g>
<clipPath id="c3"><rect x="4" y="424" width="715" height="307"/></clipPath>
<g clip-path="url(#c3)" shape-rendering="crispEdges">
<path d="M5 688h6v1h-6zM10 689h1v1h-1zM11 690h1v1h-1zM12 685h1v3h-1zM11 688h1v2h-1zM12 684h1v1h-1zM13 683h1v1h-1zM13 682h1v1h-1zM14 681h7v1h-7zM21 673h1v4h-1zM20 677h1v4h-1zM21 672h1v1h-1zM22 668h1v2h-1zM21 670h1v2h-1zM22 667h6v1h-6zM28 666h2v1h-2zM29 667h1v1h-1zM30 668h1v1h-1zM30 669h2v1h-2zM32 668h3v1h-3zM35 666h1v1h-1zM34 667h1v1h-1zM35 665h2v1h-2zM37 662h1v2h-1zM36 664h1v1h-1zM37 661h2v1h-2zM39 655h1v3h-1zM38 658h1v3h-1zM39 654h1v1h-1zM40 652h1v1h-1zM39 653h1v1h-1zM40 651h1v1h-1zM41 650h1v1h-1zM41 649h28v1h-28zM68 650h1v1h-1zM69 651h1v1h-1zM70 650h1v1h-1zM70 649h2v1h-2zM72 642h1v4h-1zM71 646h1v3h-1zM72 641h1v1h-1zM73 640h1v1h-1zM73 639h1v1h-1zM74 638h1v1h-1zM74 637h1v1h-1zM75 635h1v1h-1zM74 636h1v1h-1zM75 634h1v1h-1zM76 631h1v2h-1zM75 633h1v1h-1zM76 630h1v1h-1zM77 628h1v1h-1zM76 629h1v1h-1zM77 627h52v1h-52zM128 628h1v2h-1zM129 630h1v1h-1zM129 631h1v1h-1zM129 632h1v4h-1zM130 636h1v3h-1zM130 639h1v1h-1zM130 640h1v2h-1zM131 642h1v1h-1zM131 643h1v1h-1zM131 644h1v1h-1zM132 645h1v1h-1zM132 646h1v2h-1zM133 648h1v1h-1zM133 649h2v1h-2zM135 641h1v4h-1zM134 645h1v4h-1zM135 640h1v1h-1zM136 641h2v1h-2zM138 639h1v1h-1zM137 640h1v1h-1zM138 638h1v1h-1zM139 639h1v1h-1zM140 632h1v4h-1zM139 636h1v3h-1zM140 631h1v1h-1zM141 632h1v1h-1zM142 630h1v1h-1zM141 631h1v1h-1zM142 629h42v1h-42zM183 630h1v3h-1zM184 633h1v3h-1zM184 636h2v1h-2zM186 634h1v1h-1zM185 635h1v1h-1zM186 633h1v1h-1zM187 634h2v1h-2zM189 635h1v1h-1zM190 636h40v1h-40zM230 637h1v1h-1zM231 638h1v1h-1zM232 637h1v1h-1zM232 636h1v1h-1zM233 637h3v1h-3zM236 634h1v2h-1zM235 636h1v1h-1zM236 633h1v1h-1zM237 634h2v1h-2zM239 631h1v2h-1zM238 633h1v1h-1zM239 630h1v1h-1zM240 631h4v1h-4zM244 630h2v1h-2zM246 625h1v3h-1zM245 628h1v2h-1zM246 624h1v1h-1zM247 623h2v1h-2zM249 622h1v1h-1zM250 621h9v1h-9zM259 619h1v1h-1zM258 620h1v1h-1zM259 618h3v1h-3zM262 612h1v3h-1zM261 615h1v3h-1zM262 611h9v1h-9zM270 612h1v1h-1zM271 613h1v1h-1zM271 614h1v1h-1zM272 613h1v1h-1zM272 612h2v1h-2zM274 610h1v1h-1zM273 611h1v1h-1zM274 609h3v1h-3zM277 606h1v2h-1zM276 608h1v1h-1zM277 605h2v1h-2zM279 600h1v3h-1zM278 603h1v2h-1zM279 599h1v1h-1zM280 598h1v1h-1zM281 597h3v1h-3zM284 593h1v2h-1zM283 595h1v2h-1zM284 592h1v1h-1zM285 591h1v1h-1zM286 590h1v1h-1zM287 591h2v1h-2zM289 588h1v2h-1zM288 590h1v1h-1zM289 587h1v1h-1zM290 586h2v1h-2zM292 585h46v1h-46zM337 586h1v2h-1zM338 588h1v1h-1zM338 589h2v1h-2zM340 585h1v2h-1zM339 587h1v2h-1zM340 584h2v1h-2zM342 583h3v1h-3zM345 582h1v1h-1zM345 581h1v1h-1zM346 580h1v1h-1zM346 579h1v1h-1zM347 576h1v2h-1zM346 578h1v1h-1zM347 575h1v1h-1zM348 572h1v2h-1zM347 574h1v1h-1zM348 571h1v1h-1zM349 568h1v2h-1zM348 570h1v1h-1zM349 567h1v1h-1zM350 566h1v1h-1zM350 565h1v1h-1zM351 564h1v1h-1zM352 563h1v1h-1zM353 562h14v1h-14zM367 561h1v1h-1zM368 560h28v1h-28zM396 559h8v1h-8zM403 560h1v1h-1zM404 561h1v1h-1zM404 562h1v1h-1zM405 555h1v4h-1zM404 559h1v3h-1zM405 554h1v1h-1zM406 549h1v3h-1zM405 552h1v2h-1zM406 548h1v1h-1zM407 543h1v3h-1zM406 546h1v2h-1zM407 542h1v1h-1zM408 539h1v2h-1zM407 541h1v1h-1zM408 538h1v1h-1zM409 537h1v1h-1zM409 536h1v1h-1zM410 534h1v1h-1zM409 535h1v1h-1zM410 533h1v1h-1zM411 532h1v1h-1zM411 531h1v1h-1zM412 530h1v1h-1zM412 529h1v1h-1zM413 528h1v1h-1zM413 527h1v1h-1zM414 525h1v1h-1zM413 526h1v1h-1zM414 524h1v1h-1zM415 523h1v1h-1zM415 522h1v1h-1zM416 523h1v1h-1zM417 519h1v2h-1zM416 521h1v2h-1zM417 518h9v1h-9zM426 517h1v1h-1zM426 516h1v1h-1zM427 513h1v2h-1zM426 515h1v1h-1zM427 512h46v1h-46zM472 513h1v1h-1zM473 514h1v1h-1zM473 515h1v1h-1zM474 511h1v2h-1zM473 513h1v2h-1zM474 510h2v1h-2zM476 503h1v4h-1zM475 507h1v3h-1zM476 502h1v1h-1zM477 503h2v1h-2zM479 500h1v2h-1zM478 502h1v1h-1zM479 499h2v1h-2zM481 493h1v3h-1zM480 496h1v3h-1zM481 492h1v1h-1zM482 491h1v1h-1zM482 490h1v1h-1zM483 489h2v1h-2zM485 488h2v1h-2zM487 489h2v1h-2zM489 488h1v1h-1zM489 487h1v1h-1zM490 486h2v1h-2zM492 485h2v1h-2zM494 484h2v1h-2zM496 485h1v1h-1zM497 483h1v1h-1zM496 484h1v1h-1zM497 482h2v1h-2zM499 481h1v1h-1zM500 482h1v1h-1zM501 481h1v1h-1zM502 480h1v1h-1zM502 479h43v1h-43zM544 480h1v1h-1zM545 481h1v1h-1zM545 482h1v2h-1zM546 484h1v1h-1zM546 485h1v1h-1zM546 486h1v2h-1zM547 488h1v1h-1zM547 489h1v1h-1zM547 490h1v1h-1zM548 491h1v1h-1zM548 492h1v1h-1zM548 493h1v2h-1zM549 495h1v1h-1zM549 496h1v1h-1zM550 497h1v1h-1zM551 495h1v1h-1zM550 496h1v1h-1zM551 494h1v1h-1zM552 493h49v1h-49zM601 494h1v1h-1zM601 495h1v3h-1zM602 498h1v2h-1zM602 500h3v1h-3zM605 497h1v2h-1zM604 499h1v1h-1zM605 496h4v1h-4zM609 497h8v1h-8zM617 498h3v1h-3zM620 497h2v1h-2zM622 492h1v3h-1zM621 495h1v2h-1zM622 491h1v1h-1zM623 492h4v1h-4zM627 490h1v1h-1zM626 491h1v1h-1zM627 489h1v1h-1zM628 490h2v1h-2zM630 489h2v1h-2zM632 488h1v1h-1zM632 487h3v1h-3zM635 483h1v2h-1zM634 485h1v2h-1zM635 482h1v1h-1zM636 481h1v1h-1zM636 480h36v1h-36zM671 481h1v1h-1zM672 482h1v1h-1zM672 483h1v1h-1zM673 479h1v2h-1zM672 481h1v2h-1zM673 478h1v1h-1zM674 477h1v1h-1zM675 476h1v1h-1zM676 475h1v1h-1zM677 474h1v1h-1zM678 473h1v1h-1zM679 474h1v1h-1zM680 471h1v2h-1zM679 473h1v1h-1zM680 470h1v1h-1zM681 469h1v1h-1zM681 468h1v1h-1zM682 467h1v1h-1zM682 466h1v1h-1zM683 467h2v1h-2zM685 462h1v3h-1zM684 465h1v2h-1zM685 461h1v1h-1zM686 459h1v1h-1zM685 460h1v1h-1zM686 458h1v1h-1zM687 457h1v1h-1zM687 456h1v1h-1zM688 455h1v1h-1zM688 454h1v1h-1zM689 453h2v1h-2zM691 452h1v1h-1zM692 453h1v1h-1zM693 452h1v1h-1zM693 451h1v1h-1zM694 452h2v1h-2zM696 451h1v1h-1zM696 450h2v1h-2zM698 447h1v2h-1zM697 449h1v1h-1zM698 446h1v1h-1zM699 445h1v1h-1zM700 446h1v1h-1zM701 445h1v1h-1zM701 444h2v1h-2zM703 443h2v1h-2zM705 442h3v1h-3zM708 441h1v1h-1zM708 442h1v1h-1zM709 443h1v1h-1zM709 444h2v1h-2zM711 440h1v2h-1zM710 442h1v2h-1zM711 439h1v1h-1zM712 438h3v1h-3z" fill="#f00"/>
<path d="M4 725h40v1h-40zM44 724h1v1h-1zM44 723h1v1h-1zM45 719h1v2h-1zM44 721h1v2h-1zM45 718h1v1h-1zM46 710h1v4h-1zM45 714h1v4h-1zM46 709h1v1h-1zM47 701h1v4h-1zM46 705h1v4h-1zM47 700h1v1h-1zM48 698h1v1h-1zM47 699h1v1h-1zM48 697h1v1h-1zM49 696h1v1h-1zM50 695h1v1h-1zM51 694h1v1h-1zM51 693h1v1h-1zM52 691h1v1h-1zM51 692h1v1h-1zM52 690h1v1h-1zM53 689h1v1h-1zM54 688h1v1h-1zM55 687h6v1h-6zM61 686h1v1h-1zM62 685h1v1h-1zM63 684h1v1h-1zM63 683h1v1h-1zM64 681h1v1h-1zM63 682h1v1h-1zM64 680h1v1h-1zM65 678h1v1h-1zM64 679h1v1h-1zM65 677h32v1h-32zM97 672h1v3h-1zM96 675h1v2h-1zM97 671h1v1h-1zM98 665h1v3h-1zM97 668h1v3h-1zM98 664h2v1h-2zM99 665h1v1h-1zM100 666h1v1h-1zM100 667h1v1h-1zM101 666h1v1h-1zM101 667h1v1h-1zM102 668h43v1h-43zM144 669h1v2h-1zM145 671h1v1h-1zM145 672h1v1h-1zM145 673h1v4h-1zM146 677h1v4h-1zM146 681h1v1h-1zM146 682h1v4h-1zM147 686h1v3h-1zM147 689h1v1h-1zM147 690h1v1h-1zM148 691h1v1h-1zM149 692h1v1h-1zM149 693h1v3h-1zM150 696h1v3h-1zM150 699h1v1h-1zM150 700h1v4h-1zM151 704h1v3h-1zM151 707h1v1h-1zM152 708h42v1h-42zM194 707h1v1h-1zM194 706h1v1h-1zM195 704h1v1h-1zM194 705h1v1h-1zM195 703h1v1h-1zM196 701h1v1h-1zM195 702h1v1h-1zM196 700h1v1h-1zM197 699h2v1h-2zM199 698h1v1h-1zM200 688h1v5h-1zM199 693h1v5h-1zM200 687h1v1h-1zM201 678h1v5h-1zM200 683h1v4h-1zM201 677h1v1h-1zM202 676h1v1h-1zM202 675h2v1h-2zM204 674h8v1h-8zM212 673h1v1h-1zM212 672h1v1h-1zM213 671h1v1h-1zM214 665h1v3h-1zM213 668h1v3h-1zM214 664h2v1h-2zM215 665h1v1h-1zM216 666h1v1h-1zM216 667h10v1h-10zM226 668h3v1h-3zM229 669h39v1h-39zM268 668h1v1h-1zM268 667h1v1h-1zM269 665h1v1h-1zM268 666h1v1h-1zM269 664h1v1h-1zM270 662h1v1h-1zM269 663h1v1h-1zM270 661h1v1h-1zM271 659h1v1h-1zM270 660h1v1h-1zM271 658h1v1h-1zM272 652h1v3h-1zM271 655h1v3h-1zM272 651h1v1h-1zM273 645h1v3h-1zM272 648h1v3h-1zM273 644h1v1h-1zM274 640h1v2h-1zM273 642h1v2h-1zM274 639h3v1h-3zM277 638h1v1h-1zM278 636h1v1h-1zM277 637h1v1h-1zM278 635h1v1h-1zM279 634h1v1h-1zM280 633h6v1h-6zM286 632h1v1h-1zM287 631h5v1h-5zM292 630h4v1h-4zM296 629h1v1h-1zM297 628h1v1h-1zM298 626h1v1h-1zM297 627h1v1h-1zM298 625h1v1h-1zM299 623h1v1h-1zM298 624h1v1h-1zM299 622h1v1h-1zM300 620h1v1h-1zM299 621h1v1h-1zM300 619h1v1h-1zM301 618h1v1h-1zM302 617h1v1h-1zM303 616h1v1h-1zM303 615h1v1h-1zM304 614h5v1h-5zM309 613h4v1h-4zM313 612h1v1h-1zM314 611h1v1h-1zM315 610h1v1h-1zM315 609h45v1h-45zM360 608h1v1h-1zM361 607h1v1h-1zM361 606h1v1h-1zM362 605h1v1h-1zM362 604h1v1h-1zM363 603h1v1h-1zM363 602h1v1h-1zM364 601h1v1h-1zM364 600h1v1h-1zM365 599h1v1h-1zM365 598h1v1h-1zM366 597h1v1h-1zM366 596h1v1h-1zM367 595h1v1h-1zM368 594h7v1h-7zM375 593h1v1h-1zM376 592h1v1h-1zM377 591h1v1h-1zM377 590h1v1h-1zM378 589h1v1h-1zM379 588h1v1h-1zM380 587h1v1h-1zM380 586h1v1h-1zM381 585h1v1h-1zM382 584h1v1h-1zM383 583h5v1h-5zM388 582h1v1h-1zM388 581h1v1h-1zM389 580h1v1h-1zM390 577h1v2h-1zM389 579h1v1h-1zM390 576h1v1h-1zM391 573h1v2h-1zM390 575h1v1h-1zM391 572h53v1h-53zM444 567h1v3h-1zM443 570h1v2h-1zM444 566h1v1h-1zM445 555h1v6h-1zM444 561h1v5h-1zM445 554h1v1h-1zM446 545h1v5h-1zM445 550h1v4h-1zM446 544h1v1h-1zM447 540h1v2h-1zM446 542h1v2h-1zM447 539h1v1h-1zM448 538h1v1h-1zM448 537h1v1h-1zM449 536h1v1h-1zM450 535h1v1h-1zM450 534h13v1h-13zM463 533h2v1h-2zM465 532h22v1h-22zM487 531h1v1h-1zM488 530h1v1h-1zM488 529h1v1h-1zM489 527h1v1h-1zM488 528h1v1h-1zM489 526h1v1h-1zM490 525h1v1h-1zM490 524h1v1h-1zM491 522h1v1h-1zM490 523h1v1h-1zM491 521h2v1h-2zM493 520h1v1h-1zM494 519h10v1h-10zM504 518h2v1h-2zM506 517h7v1h-7zM513 516h1v1h-1zM513 515h1v1h-1zM514 514h1v1h-1zM514 513h1v1h-1zM515 512h1v1h-1zM516 511h1v1h-1zM516 510h1v1h-1zM517 504h1v3h-1zM516 507h1v3h-1zM517 503h2v1h-2zM518 504h1v1h-1zM519 505h1v1h-1zM519 506h5v1h-5zM524 507h1v1h-1zM525 506h7v1h-7zM532 505h1v1h-1zM532 504h2v1h-2zM533 505h1v1h-1zM534 506h3v1h-3zM536 507h1v3h-1zM537 510h1v2h-1zM537 512h1v1h-1zM538 513h37v1h-37zM575 514h1v1h-1zM576 515h1v1h-1zM577 516h42v1h-42zM619 515h1v1h-1zM620 514h1v1h-1zM621 513h1v1h-1zM622 512h22v1h-22zM644 510h1v1h-1zM643 511h1v1h-1zM644 509h1v1h-1zM645 507h1v1h-1zM644 508h1v1h-1zM645 506h1v1h-1zM646 500h1v3h-1zM645 503h1v3h-1zM646 499h1v1h-1zM646 500h1v3h-1zM647 503h1v2h-1zM647 505h8v1h-8zM655 504h5v1h-5zM660 503h26v1h-26zM686 502h1v1h-1zM687 496h1v3h-1zM686 499h1v3h-1zM687 495h1v1h-1zM688 493h1v1h-1zM687 494h1v1h-1zM688 492h1v1h-1zM689 491h1v1h-1zM689 490h1v1h-1zM690 489h3v1h-3zM693 488h1v1h-1zM694 487h1v1h-1zM695 486h1v1h-1zM695 485h1v1h-1zM696 484h16v1h-16zM712 483h1v1h-1z" fill="#009000"/>
<rect x="4" y="701" width="3" height="25" fill="#000"/>
<rect x="5" y="702" width="1" height="23" fill="#fff"/>
<rect x="7" y="694" width="3" height="8" fill="#000"/>
<rect x="8" y="695" width="1" height="6" fill="#fff"/>
<rect x="9" y="689" width="3" height="6" fill="#000"/>
<rect x="10" y="690" width="1" height="4" fill="#fff"/>
<rect x="12" y="679" width="3" height="11" fill="#000"/>
<rect x="13" y="680" width="1" height="9" fill="#fff"/>
<rect x="14" y="679" width="3" height="1" fill="#000"/>
<rect x="17" y="679" width="3" height="6" fill="#000"/>
<rect x="19" y="684" width="3" height="5" fill="#000"/>
<rect x="22" y="665" width="3" height="24" fill="#000"/>
<rect x="23" y="666" width="1" height="22" fill="#fff"/>
<rect x="24" y="665" width="3" height="1" fill="#000"/>
<rect x="27" y="665" width="3" height="8" fill="#000"/>
<rect x="29" y="668" width="3" height="5" fill="#000"/>
<rect x="30" y="669" width="1" height="3" fill="#fff"/>
<rect x="32" y="667" width="3" height="2" fill="#000"/>
<rect x="35" y="664" width="3" height="4" fill="#000"/>
<rect x="36" y="665" width="1" height="2" fill="#fff"/>
<rect x="37" y="660" width="3" height="5" fill="#000"/>
<rect x="38" y="661" width="1" height="3" fill="#fff"/>
<rect x="40" y="647" width="3" height="14" fill="#000"/>
<rect x="41" y="648" width="1" height="12" fill="#fff"/>
<rect x="42" y="647" width="3" height="1" fill="#000"/>
<rect x="45" y="647" width="3" height="13" fill="#000"/>
<rect x="47" y="659" width="3" height="3" fill="#000"/>
<rect x="50" y="661" width="3" height="5" fill="#000"/>
<rect x="52" y="665" width="3" height="12" fill="#000"/>
<rect x="55" y="654" width="3" height="23" fill="#000"/>
<rect x="56" y="655" width="1" height="21" fill="#fff"/>
<rect x="57" y="654" width="3" height="9" fill="#000"/>
<rect x="60" y="662" width="3" height="8" fill="#000"/>
<rect x="62" y="669" width="3" height="1" fill="#000"/>
<rect x="65" y="663" width="3" height="7" fill="#000"/>
<rect x="66" y="664" width="1" height="5" fill="#fff"/>
<rect x="67" y="650" width="3" height="14" fill="#000"/>
<rect x="68" y="651" width="1" height="12" fill="#fff"/>
<rect x="70" y="648" width="3" height="3" fill="#000"/>
<rect x="71" y="649" width="1" height="1" fill="#fff"/>
<rect x="72" y="634" width="3" height="15" fill="#000"/>
<rect x="73" y="635" width="1" height="13" fill="#fff"/>
<rect x="75" y="627" width="3" height="8" fill="#000"/>
<rect x="76" y="628" width="1" height="6" fill="#fff"/>
<rect x="77" y="627" width="3" height="12" fill="#000"/>
<rect x="80" y="623" width="3" height="16" fill="#000"/>
<rect x="81" y="624" width="1" height="14" fill="#fff"/>
<rect x="82" y="620" width="3" height="4" fill="#000"/>
<rect x="83" y="621" width="1" height="2" fill="#fff"/>
<rect x="85" y="620" width="3" height="13" fill="#000"/>
<rect x="87" y="632" width="3" height="19" fill="#000"/>
<rect x="90" y="650" width="3" height="9" fill="#000"/>
<rect x="93" y="652" width="3" height="7" fill="#000"/>
<rect x="94" y="653" width="1" height="5" fill="#fff"/>
<rect x="95" y="652" width="3" height="14" fill="#000"/>
<rect x="98" y="665" width="3" height="1" fill="#000"/>
<rect x="100" y="665" width="3" height="3" fill="#000"/>
<rect x="103" y="667" width="3" height="1" fill="#000"/>
<rect x="105" y="660" width="3" height="8" fill="#000"/>
<rect x="106" y="661" width="1" height="6" fill="#fff"/>
<rect x="108" y="655" width="3" height="6" fill="#000"/>
<rect x="109" y="656" width="1" height="4" fill="#fff"/>
<rect x="110" y="652" width="3" height="4" fill="#000"/>
<rect x="111" y="653" width="1" height="2" fill="#fff"/>
<rect x="113" y="647" width="3" height="6" fill="#000"/>
<rect x="114" y="648" width="1" height="4" fill="#fff"/>
<rect x="115" y="645" width="3" height="3" fill="#000"/>
<rect x="116" y="646" width="1" height="1" fill="#fff"/>
<rect x="118" y="645" width="3" height="4" fill="#000"/>
<rect x="120" y="648" width="3" height="9" fill="#000"/>
<rect x="123" y="656" width="3" height="4" fill="#000"/>
<rect x="125" y="659" width="3" height="5" fill="#000"/>
<rect x="128" y="663" width="3" height="2" fill="#000"/>
<rect x="130" y="651" width="3" height="14" fill="#000"/>
<rect x="131" y="652" width="1" height="12" fill="#fff"/>
<rect x="133" y="648" width="3" height="4" fill="#000"/>
<rect x="134" y="649" width="1" height="2" fill="#fff"/>
<rect x="135" y="640" width="3" height="9" fill="#000"/>
<rect x="136" y="641" width="1" height="7" fill="#fff"/>
<rect x="138" y="638" width="3" height="3" fill="#000"/>
<rect x="139" y="639" width="1" height="1" fill="#fff"/>
<rect x="140" y="631" width="3" height="8" fill="#000"/>
<rect x="141" y="632" width="1" height="6" fill="#fff"/>
<rect x="143" y="631" width="3" height="5" fill="#000"/>
<rect x="146" y="635" width="3" height="40" fill="#000"/>
<rect x="148" y="674" width="3" height="19" fill="#000"/>
<rect x="151" y="677" width="3" height="16" fill="#000"/>
<rect x="152" y="678" width="1" height="14" fill="#fff"/>
<rect x="153" y="677" width="3" height="15" fill="#000"/>
<rect x="156" y="691" width="3" height="15" fill="#000"/>
<rect x="158" y="685" width="3" height="21" fill="#000"/>
<rect x="159" y="686" width="1" height="19" fill="#fff"/>
<rect x="161" y="677" width="3" height="9" fill="#000"/>
<rect x="162" y="678" width="1" height="7" fill="#fff"/>
<rect x="163" y="663" width="3" height="15" fill="#000"/>
<rect x="164" y="664" width="1" height="13" fill="#fff"/>
<rect x="166" y="663" width="3" height="1" fill="#000"/>
<rect x="168" y="663" width="3" height="11" fill="#000"/>
<rect x="171" y="673" width="3" height="5" fill="#000"/>
<rect x="173" y="668" width="3" height="10" fill="#000"/>
<rect x="174" y="669" width="1" height="8" fill="#fff"/>
<rect x="176" y="648" width="3" height="21" fill="#000"/>
<rect x="177" y="649" width="1" height="19" fill="#fff"/>
<rect x="178" y="637" width="3" height="12" fill="#000"/>
<rect x="179" y="638" width="1" height="10" fill="#fff"/>
<rect x="181" y="637" width="3" height="1" fill="#000"/>
<rect x="183" y="635" width="3" height="3" fill="#000"/>
<rect x="184" y="636" width="1" height="1" fill="#fff"/>
<rect x="186" y="632" width="3" height="4" fill="#000"/>
<rect x="187" y="633" width="1" height="2" fill="#fff"/>
<rect x="188" y="632" width="3" height="16" fill="#000"/>
<rect x="191" y="647" width="3" height="6" fill="#000"/>
<rect x="193" y="652" width="3" height="1" fill="#000"/>
<rect x="196" y="652" width="3" height="4" fill="#000"/>
<rect x="199" y="648" width="3" height="8" fill="#000"/>
<rect x="200" y="649" width="1" height="6" fill="#fff"/>
<rect x="201" y="638" width="3" height="11" fill="#000"/>
<rect x="202" y="639" width="1" height="9" fill="#fff"/>
<rect x="204" y="638" width="3" height="17" fill="#000"/>
<rect x="206" y="654" width="3" height="1" fill="#000"/>
<rect x="209" y="654" width="3" height="4" fill="#000"/>
<rect x="211" y="657" width="3" height="9" fill="#000"/>
<rect x="214" y="648" width="3" height="18" fill="#000"/>
<rect x="215" y="649" width="1" height="16" fill="#fff"/>
<rect x="216" y="645" width="3" height="4" fill="#000"/>
<rect x="217" y="646" width="1" height="2" fill="#fff"/>
<rect x="219" y="644" width="3" height="2" fill="#000"/>
<rect x="221" y="644" width="3" height="5" fill="#000"/>
<rect x="224" y="648" width="3" height="24" fill="#000"/>
<rect x="226" y="671" width="3" height="1" fill="#000"/>
<rect x="229" y="657" width="3" height="15" fill="#000"/>
<rect x="230" y="658" width="1" height="13" fill="#fff"/>
<rect x="231" y="636" width="3" height="22" fill="#000"/>
<rect x="232" y="637" width="1" height="20" fill="#fff"/>
<rect x="234" y="636" width="3" height="1" fill="#000"/>
<rect x="236" y="633" width="3" height="4" fill="#000"/>
<rect x="237" y="634" width="1" height="2" fill="#fff"/>
<rect x="239" y="630" width="3" height="4" fill="#000"/>
<rect x="240" y="631" width="1" height="2" fill="#fff"/>
<rect x="241" y="630" width="3" height="1" fill="#000"/>
<rect x="244" y="629" width="3" height="2" fill="#000"/>
<rect x="246" y="617" width="3" height="13" fill="#000"/>
<rect x="247" y="618" width="1" height="11" fill="#fff"/>
<rect x="249" y="617" width="3" height="1" fill="#000"/>
<rect x="251" y="617" width="3" height="16" fill="#000"/>
<rect x="254" y="632" width="3" height="4" fill="#000"/>
<rect x="257" y="625" width="3" height="11" fill="#000"/>
<rect x="258" y="626" width="1" height="9" fill="#fff"/>
<rect x="259" y="617" width="3" height="9" fill="#000"/>
<rect x="260" y="618" width="1" height="7" fill="#fff"/>
<rect x="262" y="607" width="3" height="11" fill="#000"/>
<rect x="263" y="608" width="1" height="9" fill="#fff"/>
<rect x="264" y="607" width="3" height="1" fill="#000"/>
<rect x="267" y="607" width="3" height="11" fill="#000"/>
<rect x="269" y="613" width="3" height="5" fill="#000"/>
<rect x="270" y="614" width="1" height="3" fill="#fff"/>
<rect x="272" y="611" width="3" height="3" fill="#000"/>
<rect x="273" y="612" width="1" height="1" fill="#fff"/>
<rect x="274" y="608" width="3" height="4" fill="#000"/>
<rect x="275" y="609" width="1" height="2" fill="#fff"/>
<rect x="277" y="604" width="3" height="5" fill="#000"/>
<rect x="278" y="605" width="1" height="3" fill="#fff"/>
<rect x="279" y="596" width="3" height="9" fill="#000"/>
<rect x="280" y="597" width="1" height="7" fill="#fff"/>
<rect x="282" y="596" width="3" height="1" fill="#000"/>
<rect x="284" y="590" width="3" height="7" fill="#000"/>
<rect x="285" y="591" width="1" height="5" fill="#fff"/>
<rect x="287" y="590" width="3" height="1" fill="#000"/>
<rect x="289" y="584" width="3" height="7" fill="#000"/>
<rect x="290" y="585" width="1" height="5" fill="#fff"/>
<rect x="292" y="582" width="3" height="3" fill="#000"/>
<rect x="293" y="583" width="1" height="1" fill="#fff"/>
<rect x="294" y="582" width="3" height="3" fill="#000"/>
<rect x="297" y="584" width="3" height="2" fill="#000"/>
<rect x="299" y="585" width="3" height="6" fill="#000"/>
<rect x="302" y="590" width="3" height="10" fill="#000"/>
<rect x="304" y="599" width="3" height="1" fill="#000"/>
<rect x="307" y="592" width="3" height="8" fill="#000"/>
<rect x="308" y="593" width="1" height="6" fill="#fff"/>
<rect x="310" y="592" width="3" height="12" fill="#000"/>
<rect x="312" y="603" width="3" height="2" fill="#000"/>
<rect x="315" y="604" width="3" height="8" fill="#000"/>
<rect x="317" y="605" width="3" height="7" fill="#000"/>
<rect x="318" y="606" width="1" height="5" fill="#fff"/>
<rect x="320" y="604" width="3" height="2" fill="#000"/>
<rect x="322" y="602" width="3" height="3" fill="#000"/>
<rect x="323" y="603" width="1" height="1" fill="#fff"/>
<rect x="325" y="584" width="3" height="19" fill="#000"/>
<rect x="326" y="585" width="1" height="17" fill="#fff"/>
<rect x="327" y="584" width="3" height="8" fill="#000"/>
<rect x="330" y="591" width="3" height="5" fill="#000"/>
<rect x="332" y="595" width="3" height="1" fill="#000"/>
<rect x="335" y="589" width="3" height="7" fill="#000"/>
<rect x="336" y="590" width="1" height="5" fill="#fff"/>
<rect x="337" y="588" width="3" height="2" fill="#000"/>
<rect x="340" y="579" width="3" height="10" fill="#000"/>
<rect x="341" y="580" width="1" height="8" fill="#fff"/>
<rect x="342" y="579" width="3" height="1" fill="#000"/>
<rect x="345" y="579" width="3" height="7" fill="#000"/>
<rect x="347" y="567" width="3" height="19" fill="#000"/>
<rect x="348" y="568" width="1" height="17" fill="#fff"/>
<rect x="350" y="560" width="3" height="8" fill="#000"/>
<rect x="351" y="561" width="1" height="6" fill="#fff"/>
<rect x="352" y="560" width="3" height="1" fill="#000"/>
<rect x="355" y="560" width="3" height="4" fill="#000"/>
<rect x="357" y="563" width="3" height="1" fill="#000"/>
<rect x="360" y="563" width="3" height="5" fill="#000"/>
<rect x="363" y="567" width="3" height="2" fill="#000"/>
<rect x="365" y="567" width="3" height="2" fill="#000"/>
<rect x="368" y="557" width="3" height="11" fill="#000"/>
<rect x="369" y="558" width="1" height="9" fill="#fff"/>
<rect x="370" y="557" width="3" height="1" fill="#000"/>
<rect x="373" y="557" width="3" height="13" fill="#000"/>
<rect x="375" y="569" width="3" height="3" fill="#000"/>
<rect x="378" y="568" width="3" height="4" fill="#000"/>
<rect x="379" y="569" width="1" height="2" fill="#fff"/>
<rect x="380" y="565" width="3" height="4" fill="#000"/>
<rect x="381" y="566" width="1" height="2" fill="#fff"/>
<rect x="383" y="565" width="3" height="9" fill="#000"/>
<rect x="385" y="558" width="3" height="16" fill="#000"/>
<rect x="386" y="559" width="1" height="14" fill="#fff"/>
<rect x="388" y="558" width="3" height="1" fill="#000"/>
<rect x="390" y="558" width="3" height="8" fill="#000"/>
<rect x="393" y="561" width="3" height="5" fill="#000"/>
<rect x="394" y="562" width="1" height="3" fill="#fff"/>
<rect x="395" y="555" width="3" height="7" fill="#000"/>
<rect x="396" y="556" width="1" height="5" fill="#fff"/>
<rect x="398" y="555" width="3" height="1" fill="#000"/>
<rect x="400" y="555" width="3" height="7" fill="#000"/>
<rect x="403" y="561" width="3" height="12" fill="#000"/>
<rect x="405" y="548" width="3" height="25" fill="#000"/>
<rect x="406" y="549" width="1" height="23" fill="#fff"/>
<rect x="408" y="531" width="3" height="18" fill="#000"/>
<rect x="409" y="532" width="1" height="16" fill="#fff"/>
<rect x="410" y="524" width="3" height="8" fill="#000"/>
<rect x="411" y="525" width="1" height="6" fill="#fff"/>
<rect x="413" y="524" width="3" height="7" fill="#000"/>
<rect x="414" y="525" width="1" height="5" fill="#fff"/>
<rect x="415" y="522" width="3" height="3" fill="#000"/>
<rect x="416" y="523" width="1" height="1" fill="#fff"/>
<rect x="418" y="515" width="3" height="8" fill="#000"/>
<rect x="419" y="516" width="1" height="6" fill="#fff"/>
<rect x="421" y="515" width="3" height="8" fill="#000"/>
<rect x="422" y="516" width="1" height="6" fill="#fff"/>
<rect x="423" y="515" width="3" height="8" fill="#000"/>
<rect x="424" y="516" width="1" height="6" fill="#fff"/>
<rect x="426" y="515" width="3" height="4" fill="#000"/>
<rect x="428" y="518" width="3" height="4" fill="#000"/>
<rect x="431" y="521" width="3" height="4" fill="#000"/>
<rect x="433" y="521" width="3" height="4" fill="#000"/>
<rect x="436" y="521" width="3" height="4" fill="#000"/>
<rect x="438" y="524" width="3" height="4" fill="#000"/>
<rect x="441" y="527" width="3" height="6" fill="#000"/>
<rect x="443" y="527" width="3" height="6" fill="#000"/>
<rect x="446" y="520" width="3" height="9" fill="#000"/>
<rect x="447" y="521" width="1" height="7" fill="#fff"/>
<rect x="448" y="515" width="3" height="7" fill="#000"/>
<rect x="449" y="516" width="1" height="5" fill="#fff"/>
<rect x="451" y="515" width="3" height="7" fill="#000"/>
<rect x="452" y="516" width="1" height="5" fill="#fff"/>
<rect x="453" y="512" width="3" height="5" fill="#000"/>
<rect x="454" y="513" width="1" height="3" fill="#fff"/>
<rect x="456" y="512" width="3" height="3" fill="#000"/>
<rect x="457" y="513" width="1" height="1" fill="#fff"/>
<rect x="458" y="514" width="3" height="8" fill="#000"/>
<rect x="461" y="515" width="3" height="7" fill="#000"/>
<rect x="463" y="521" width="3" height="1" fill="#000"/>
<rect x="466" y="515" width="3" height="7" fill="#000"/>
<rect x="467" y="516" width="1" height="5" fill="#fff"/>
<rect x="468" y="515" width="3" height="5" fill="#000"/>
<rect x="471" y="514" width="3" height="6" fill="#000"/>
<rect x="472" y="515" width="1" height="4" fill="#fff"/>
<rect x="474" y="509" width="3" height="6" fill="#000"/>
<rect x="475" y="510" width="1" height="4" fill="#fff"/>
<rect x="476" y="502" width="3" height="8" fill="#000"/>
<rect x="477" y="503" width="1" height="6" fill="#fff"/>
<rect x="479" y="498" width="3" height="5" fill="#000"/>
<rect x="480" y="499" width="1" height="3" fill="#fff"/>
<rect x="481" y="488" width="3" height="11" fill="#000"/>
<rect x="482" y="489" width="1" height="9" fill="#fff"/>
<rect x="484" y="488" width="3" height="1" fill="#000"/>
<rect x="486" y="488" width="3" height="1" fill="#000"/>
<rect x="489" y="485" width="3" height="4" fill="#000"/>
<rect x="490" y="486" width="1" height="2" fill="#fff"/>
<rect x="491" y="484" width="3" height="2" fill="#000"/>
<rect x="494" y="484" width="3" height="5" fill="#000"/>
<rect x="496" y="488" width="3" height="1" fill="#000"/>
<rect x="499" y="481" width="3" height="8" fill="#000"/>
<rect x="500" y="482" width="1" height="6" fill="#fff"/>
<rect x="501" y="480" width="3" height="2" fill="#000"/>
<rect x="504" y="480" width="3" height="15" fill="#000"/>
<rect x="506" y="494" width="3" height="2" fill="#000"/>
<rect x="509" y="495" width="3" height="3" fill="#000"/>
<rect x="511" y="497" width="3" height="1" fill="#000"/>
<rect x="514" y="497" width="3" height="7" fill="#000"/>
<rect x="516" y="503" width="3" height="2" fill="#000"/>
<rect x="519" y="504" width="3" height="4" fill="#000"/>
<rect x="521" y="501" width="3" height="7" fill="#000"/>
<rect x="522" y="502" width="1" height="5" fill="#fff"/>
<rect x="524" y="501" width="3" height="7" fill="#000"/>
<rect x="525" y="502" width="1" height="5" fill="#fff"/>
<rect x="526" y="501" width="3" height="5" fill="#000"/>
<rect x="529" y="495" width="3" height="11" fill="#000"/>
<rect x="530" y="496" width="1" height="9" fill="#fff"/>
<rect x="532" y="495" width="3" height="11" fill="#000"/>
<rect x="533" y="496" width="1" height="9" fill="#fff"/>
<rect x="534" y="495" width="3" height="13" fill="#000"/>
<rect x="537" y="507" width="3" height="7" fill="#000"/>
<rect x="539" y="513" width="3" height="1" fill="#000"/>
<rect x="542" y="513" width="3" height="1" fill="#000"/>
<rect x="544" y="513" width="3" height="1" fill="#000"/>
<rect x="547" y="513" width="3" height="1" fill="#000"/>
<rect x="549" y="505" width="3" height="9" fill="#000"/>
<rect x="550" y="506" width="1" height="7" fill="#fff"/>
<rect x="552" y="500" width="3" height="6" fill="#000"/>
<rect x="553" y="501" width="1" height="4" fill="#fff"/>
<rect x="554" y="493" width="3" height="8" fill="#000"/>
<rect x="555" y="494" width="1" height="6" fill="#fff"/>
<rect x="557" y="489" width="3" height="5" fill="#000"/>
<rect x="558" y="490" width="1" height="3" fill="#fff"/>
<rect x="559" y="489" width="3" height="15" fill="#000"/>
<rect x="562" y="499" width="3" height="5" fill="#000"/>
<rect x="563" y="500" width="1" height="3" fill="#fff"/>
<rect x="564" y="495" width="3" height="5" fill="#000"/>
<rect x="565" y="496" width="1" height="3" fill="#fff"/>
<rect x="567" y="495" width="3" height="5" fill="#000"/>
<rect x="568" y="496" width="1" height="3" fill="#fff"/>
<rect x="569" y="495" width="3" height="13" fill="#000"/>
<rect x="572" y="507" width="3" height="9" fill="#000"/>
<rect x="574" y="515" width="3" height="3" fill="#000"/>
<rect x="577" y="512" width="3" height="6" fill="#000"/>
<rect x="578" y="513" width="1" height="4" fill="#fff"/>
<rect x="579" y="509" width="3" height="4" fill="#000"/>
<rect x="580" y="510" width="1" height="2" fill="#fff"/>
<rect x="582" y="509" width="3" height="5" fill="#000"/>
<rect x="585" y="513" width="3" height="1" fill="#000"/>
<rect x="587" y="507" width="3" height="7" fill="#000"/>
<rect x="588" y="508" width="1" height="5" fill="#fff"/>
<rect x="590" y="507" width="3" height="2" fill="#000"/>
<rect x="592" y="505" width="3" height="4" fill="#000"/>
<rect x="593" y="506" width="1" height="2" fill="#fff"/>
<rect x="595" y="505" width="3" height="6" fill="#000"/>
<rect x="597" y="510" width="3" height="1" fill="#000"/>
<rect x="600" y="509" width="3" height="2" fill="#000"/>
<rect x="602" y="499" width="3" height="11" fill="#000"/>
<rect x="603" y="500" width="1" height="9" fill="#fff"/>
<rect x="605" y="496" width="3" height="4" fill="#000"/>
<rect x="606" y="497" width="1" height="2" fill="#fff"/>
<rect x="607" y="496" width="3" height="1" fill="#000"/>
<rect x="610" y="496" width="3" height="1" fill="#000"/>
<rect x="612" y="496" width="3" height="10" fill="#000"/>
<rect x="615" y="505" width="3" height="3" fill="#000"/>
<rect x="617" y="497" width="3" height="11" fill="#000"/>
<rect x="618" y="498" width="1" height="9" fill="#fff"/>
<rect x="620" y="496" width="3" height="2" fill="#000"/>
<rect x="622" y="491" width="3" height="6" fill="#000"/>
<rect x="623" y="492" width="1" height="4" fill="#fff"/>
<rect x="625" y="491" width="3" height="1" fill="#000"/>
<rect x="627" y="489" width="3" height="3" fill="#000"/>
<rect x="628" y="490" width="1" height="1" fill="#fff"/>
<rect x="630" y="488" width="3" height="2" fill="#000"/>
<rect x="632" y="486" width="3" height="3" fill="#000"/>
<rect x="633" y="487" width="1" height="1" fill="#fff"/>
<rect x="635" y="481" width="3" height="6" fill="#000"/>
<rect x="636" y="482" width="1" height="4" fill="#fff"/>
<rect x="638" y="481" width="3" height="1" fill="#000"/>
<rect x="640" y="481" width="3" height="8" fill="#000"/>
<rect x="643" y="488" width="3" height="13" fill="#000"/>
<rect x="645" y="500" width="3" height="1" fill="#000"/>
<rect x="648" y="490" width="3" height="11" fill="#000"/>
<rect x="649" y="491" width="1" height="9" fill="#fff"/>
<rect x="650" y="489" width="3" height="2" fill="#000"/>
<rect x="653" y="483" width="3" height="7" fill="#000"/>
<rect x="654" y="484" width="1" height="5" fill="#fff"/>
<rect x="655" y="483" width="3" height="1" fill="#000"/>
<rect x="658" y="483" width="3" height="1" fill="#000"/>
<rect x="660" y="478" width="3" height="6" fill="#000"/>
<rect x="661" y="479" width="1" height="4" fill="#fff"/>
<rect x="663" y="478" width="3" height="1" fill="#000"/>
<rect x="665" y="478" width="3" height="4" fill="#000"/>
<rect x="668" y="481" width="3" height="2" fill="#000"/>
<rect x="670" y="482" width="3" height="1" fill="#000"/>
<rect x="673" y="474" width="3" height="9" fill="#000"/>
<rect x="674" y="475" width="1" height="7" fill="#fff"/>
<rect x="675" y="474" width="3" height="1" fill="#000"/>
<rect x="678" y="473" width="3" height="2" fill="#000"/>
<rect x="680" y="466" width="3" height="8" fill="#000"/>
<rect x="681" y="467" width="1" height="6" fill="#fff"/>
<rect x="683" y="466" width="3" height="1" fill="#000"/>
<rect x="685" y="456" width="3" height="11" fill="#000"/>
<rect x="686" y="457" width="1" height="9" fill="#fff"/>
<rect x="688" y="453" width="3" height="4" fill="#000"/>
<rect x="689" y="454" width="1" height="2" fill="#fff"/>
<rect x="690" y="452" width="3" height="2" fill="#000"/>
<rect x="693" y="451" width="3" height="2" fill="#000"/>
<rect x="696" y="449" width="3" height="3" fill="#000"/>
<rect x="697" y="450" width="1" height="1" fill="#fff"/>
<rect x="698" y="445" width="3" height="5" fill="#000"/>
<rect x="699" y="446" width="1" height="3" fill="#fff"/>
<rect x="701" y="441" width="3" height="5" fill="#000"/>
<rect x="702" y="442" width="1" height="3" fill="#fff"/>
<rect x="703" y="441" width="3" height="1" fill="#000"/>
<rect x="706" y="441" width="3" height="5" fill="#000"/>
<rect x="708" y="443" width="3" height="3" fill="#000"/>
<rect x="709" y="444" width="1" height="1" fill="#fff"/>
<rect x="711" y="438" width="3" height="6" fill="#000"/>
<rect x="712" y="439" width="1" height="4" fill="#fff"/>
<rect x="713" y="438" width="3" height="16" fill="#000"/>
</g>
<g shape-rendering="crispEdges">
<path d="M16 658h3v6h-3zM17 672h1v1h-1zM17 671h1v1h-1zM16 670h3v1h-3zM16 669h3v1h-3zM15 668h5v1h-5zM15 667h5v1h-5zM14 666h7v1h-7zM14 665h7v1h-7zM13 664h9v1h-9z" fill="#f00"/>
<path d="M26 649h3v6h-3zM27 663h1v1h-1zM27 662h1v1h-1zM26 661h3v1h-3zM26 660h3v1h-3zM25 659h5v1h-5zM25 658h5v1h-5zM24 657h7v1h-7zM24 656h7v1h-7zM23 655h9v1h-9z" fill="#f00"/>
<path d="M44 627h3v6h-3zM45 641h1v1h-1zM45 640h1v1h-1zM44 639h3v1h-3zM44 638h3v1h-3zM43 637h5v1h-5zM43 636h5v1h-5zM42 635h7v1h-7zM42 634h7v1h-7zM41 633h9v1h-9z" fill="#f00"/>
<path d="M59 631h3v6h-3zM60 645h1v1h-1zM60 644h1v1h-1zM59 643h3v1h-3zM59 642h3v1h-3zM58 641h5v1h-5zM58 640h5v1h-5zM57 639h7v1h-7zM57 638h7v1h-7zM56 637h9v1h-9z" fill="#f00"/>
<path d="M77 604h3v6h-3zM78 618h1v1h-1zM78 617h1v1h-1zM77 616h3v1h-3zM77 615h3v1h-3zM76 614h5v1h-5zM76 613h5v1h-5zM75 612h7v1h-7zM75 611h7v1h-7zM74 610h9v1h-9z" fill="#f00"/>
<path d="M84 597h3v6h-3zM85 611h1v1h-1zM85 610h1v1h-1zM84 609h3v1h-3zM84 608h3v1h-3zM83 607h5v1h-5zM83 606h5v1h-5zM82 605h7v1h-7zM82 604h7v1h-7zM81 603h9v1h-9z" fill="#f00"/>
<path d="M117 623h3v6h-3zM118 637h1v1h-1zM118 636h1v1h-1zM117 635h3v1h-3zM117 634h3v1h-3zM116 633h5v1h-5zM116 632h5v1h-5zM115 631h7v1h-7zM115 630h7v1h-7zM114 629h9v1h-9z" fill="#f00"/>
<path d="M145 613h3v6h-3zM146 627h1v1h-1zM146 626h1v1h-1zM145 625h3v1h-3zM145 624h3v1h-3zM144 623h5v1h-5zM144 622h5v1h-5zM143 621h7v1h-7zM143 620h7v1h-7zM142 619h9v1h-9z" fill="#f00"/>
<path d="M167 641h3v6h-3zM168 655h1v1h-1zM168 654h1v1h-1zM167 653h3v1h-3zM167 652h3v1h-3zM166 651h5v1h-5zM166 650h5v1h-5zM165 649h7v1h-7zM165 648h7v1h-7zM164 647h9v1h-9z" fill="#f00"/>
<path d="M188 609h3v6h-3zM189 623h1v1h-1zM189 622h1v1h-1zM188 621h3v1h-3zM188 620h3v1h-3zM187 619h5v1h-5zM187 618h5v1h-5zM186 617h7v1h-7zM186 616h7v1h-7zM185 615h9v1h-9z" fill="#f00"/>
<path d="M200 615h3v6h-3zM201 629h1v1h-1zM201 628h1v1h-1zM200 627h3v1h-3zM200 626h3v1h-3zM199 625h5v1h-5zM199 624h5v1h-5zM198 623h7v1h-7zM198 622h7v1h-7zM197 621h9v1h-9z" fill="#f00"/>
<path d="M221 621h3v6h-3zM222 635h1v1h-1zM222 634h1v1h-1zM221 633h3v1h-3zM221 632h3v1h-3zM220 631h5v1h-5zM220 630h5v1h-5zM219 629h7v1h-7zM219 628h7v1h-7zM218 627h9v1h-9z" fill="#f00"/>
<path d="M251 603h3v6h-3zM252 617h1v1h-1zM252 616h1v1h-1zM251 615h3v1h-3zM251 614h3v1h-3zM250 613h5v1h-5zM250 612h5v1h-5zM249 611h7v1h-7zM249 610h7v1h-7zM248 609h9v1h-9z" fill="#f00"/>
<path d="M266 593h3v6h-3zM267 607h1v1h-1zM267 606h1v1h-1zM266 605h3v1h-3zM266 604h3v1h-3zM265 603h5v1h-5zM265 602h5v1h-5zM264 601h7v1h-7zM264 600h7v1h-7zM263 599h9v1h-9z" fill="#f00"/>
<path d="M294 559h3v6h-3zM295 573h1v1h-1zM295 572h1v1h-1zM294 571h3v1h-3zM294 570h3v1h-3zM293 569h5v1h-5zM293 568h5v1h-5zM292 567h7v1h-7zM292 566h7v1h-7zM291 565h9v1h-9z" fill="#f00"/>
<path d="M299 562h3v6h-3zM300 576h1v1h-1zM300 575h1v1h-1zM299 574h3v1h-3zM299 573h3v1h-3zM298 572h5v1h-5zM298 571h5v1h-5zM297 570h7v1h-7zM297 569h7v1h-7zM296 568h9v1h-9z" fill="#f00"/>
<path d="M329 561h3v6h-3zM330 575h1v1h-1zM330 574h1v1h-1zM329 573h3v1h-3zM329 572h3v1h-3zM328 571h5v1h-5zM328 570h5v1h-5zM327 569h7v1h-7zM327 568h7v1h-7zM326 567h9v1h-9z" fill="#f00"/>
<path d="M355 539h3v6h-3zM356 553h1v1h-1zM356 552h1v1h-1zM355 551h3v1h-3zM355 550h3v1h-3zM354 549h5v1h-5zM354 548h5v1h-5zM353 547h7v1h-7zM353 546h7v1h-7zM352 545h9v1h-9z" fill="#f00"/>
<path d="M359 540h3v6h-3zM360 554h1v1h-1zM360 553h1v1h-1zM359 552h3v1h-3zM359 551h3v1h-3zM358 550h5v1h-5zM358 549h5v1h-5zM357 548h7v1h-7zM357 547h7v1h-7zM356 546h9v1h-9z" fill="#f00"/>
<path d="M372 540h3v6h-3zM373 554h1v1h-1zM373 553h1v1h-1zM372 552h3v1h-3zM372 551h3v1h-3zM371 550h5v1h-5zM371 549h5v1h-5zM370 548h7v1h-7zM370 547h7v1h-7zM369 546h9v1h-9z" fill="#f00"/>
<path d="M382 543h3v6h-3zM383 557h1v1h-1zM383 556h1v1h-1zM382 555h3v1h-3zM382 554h3v1h-3zM381 553h5v1h-5zM381 552h5v1h-5zM380 551h7v1h-7zM380 550h7v1h-7zM379 549h9v1h-9z" fill="#f00"/>
<path d="M390 541h3v6h-3zM391 555h1v1h-1zM391 554h1v1h-1zM390 553h3v1h-3zM390 552h3v1h-3zM389 551h5v1h-5zM389 550h5v1h-5zM388 549h7v1h-7zM388 548h7v1h-7zM387 547h9v1h-9z" fill="#f00"/>
<path d="M397 532h3v6h-3zM398 546h1v1h-1zM398 545h1v1h-1zM397 544h3v1h-3zM397 543h3v1h-3zM396 542h5v1h-5zM396 541h5v1h-5zM395 540h7v1h-7zM395 539h7v1h-7zM394 538h9v1h-9z" fill="#f00"/>
<path d="M427 493h3v6h-3zM428 507h1v1h-1zM428 506h1v1h-1zM427 505h3v1h-3zM427 504h3v1h-3zM426 503h5v1h-5zM426 502h5v1h-5zM425 501h7v1h-7zM425 500h7v1h-7zM424 499h9v1h-9z" fill="#f00"/>
<path d="M460 491h3v6h-3zM461 505h1v1h-1zM461 504h1v1h-1zM460 503h3v1h-3zM460 502h3v1h-3zM459 501h5v1h-5zM459 500h5v1h-5zM458 499h7v1h-7zM458 498h7v1h-7zM457 497h9v1h-9z" fill="#f00"/>
<path d="M493 461h3v6h-3zM494 475h1v1h-1zM494 474h1v1h-1zM493 473h3v1h-3zM493 472h3v1h-3zM492 471h5v1h-5zM492 470h5v1h-5zM491 469h7v1h-7zM491 468h7v1h-7zM490 467h9v1h-9z" fill="#f00"/>
<path d="M503 459h3v6h-3zM504 473h1v1h-1zM504 472h1v1h-1zM503 471h3v1h-3zM503 470h3v1h-3zM502 469h5v1h-5zM502 468h5v1h-5zM501 467h7v1h-7zM501 466h7v1h-7zM500 465h9v1h-9z" fill="#f00"/>
<path d="M532 473h3v6h-3zM533 487h1v1h-1zM533 486h1v1h-1zM532 485h3v1h-3zM532 484h3v1h-3zM531 483h5v1h-5zM531 482h5v1h-5zM530 481h7v1h-7zM530 480h7v1h-7zM529 479h9v1h-9z" fill="#f00"/>
<path d="M559 468h3v6h-3zM560 482h1v1h-1zM560 481h1v1h-1zM559 480h3v1h-3zM559 479h3v1h-3zM558 478h5v1h-5zM558 477h5v1h-5zM557 476h7v1h-7zM557 475h7v1h-7zM556 474h9v1h-9z" fill="#f00"/>
<path d="M569 476h3v6h-3zM570 490h1v1h-1zM570 489h1v1h-1zM569 488h3v1h-3zM569 487h3v1h-3zM568 486h5v1h-5zM568 485h5v1h-5zM567 484h7v1h-7zM567 483h7v1h-7zM566 482h9v1h-9z" fill="#f00"/>
<path d="M581 487h3v6h-3zM582 501h1v1h-1zM582 500h1v1h-1zM581 499h3v1h-3zM581 498h3v1h-3zM580 497h5v1h-5zM580 496h5v1h-5zM579 495h7v1h-7zM579 494h7v1h-7zM578 493h9v1h-9z" fill="#f00"/>
<path d="M595 481h3v6h-3zM596 495h1v1h-1zM596 494h1v1h-1zM595 493h3v1h-3zM595 492h3v1h-3zM594 491h5v1h-5zM594 490h5v1h-5zM593 489h7v1h-7zM593 488h7v1h-7zM592 487h9v1h-9z" fill="#f00"/>
<path d="M610 473h3v6h-3zM611 487h1v1h-1zM611 486h1v1h-1zM610 485h3v1h-3zM610 484h3v1h-3zM609 483h5v1h-5zM609 482h5v1h-5zM608 481h7v1h-7zM608 480h7v1h-7zM607 479h9v1h-9z" fill="#f00"/>
<path d="M639 459h3v6h-3zM640 473h1v1h-1zM640 472h1v1h-1zM639 471h3v1h-3zM639 470h3v1h-3zM638 469h5v1h-5zM638 468h5v1h-5zM637 467h7v1h-7zM637 466h7v1h-7zM636 465h9v1h-9z" fill="#f00"/>
<path d="M665 457h3v6h-3zM666 471h1v1h-1zM666 470h1v1h-1zM665 469h3v1h-3zM665 468h3v1h-3zM664 467h5v1h-5zM664 466h5v1h-5zM663 465h7v1h-7zM663 464h7v1h-7zM662 463h9v1h-9z" fill="#f00"/>
<path d="M705 419h3v6h-3zM706 433h1v1h-1zM706 432h1v1h-1zM705 431h3v1h-3zM705 430h3v1h-3zM704 429h5v1h-5zM704 428h5v1h-5zM703 427h7v1h-7zM703 426h7v1h-7zM702 425h9v1h-9z" fill="#f00"/>
<path d="M712 416h3v6h-3zM713 430h1v1h-1zM713 429h1v1h-1zM712 428h3v1h-3zM712 427h3v1h-3zM711 426h5v1h-5zM711 425h5v1h-5zM710 424h7v1h-7zM710 423h7v1h-7zM709 422h9v1h-9z" fill="#f00"/>
<path d="M54 693h3v6h-3zM55 684h1v1h-1zM55 685h1v1h-1zM54 686h3v1h-3zM54 687h3v1h-3zM53 688h5v1h-5zM53 689h5v1h-5zM52 690h7v1h-7zM52 691h7v1h-7zM51 692h9v1h-9z" fill="#009000"/>
<path d="M94 675h3v6h-3zM95 666h1v1h-1zM95 667h1v1h-1zM94 668h3v1h-3zM94 669h3v1h-3zM93 670h5v1h-5zM93 671h5v1h-5zM92 672h7v1h-7zM92 673h7v1h-7zM91 674h9v1h-9z" fill="#009000"/>
<path d="M104 684h3v6h-3zM105 675h1v1h-1zM105 676h1v1h-1zM104 677h3v1h-3zM104 678h3v1h-3zM103 679h5v1h-5zM103 680h5v1h-5zM102 681h7v1h-7zM102 682h7v1h-7zM101 683h9v1h-9z" fill="#009000"/>
<path d="M131 680h3v6h-3zM132 671h1v1h-1zM132 672h1v1h-1zM131 673h3v1h-3zM131 674h3v1h-3zM130 675h5v1h-5zM130 676h5v1h-5zM129 677h7v1h-7zM129 678h7v1h-7zM128 679h9v1h-9z" fill="#009000"/>
<path d="M153 698h3v6h-3zM154 689h1v1h-1zM154 690h1v1h-1zM153 691h3v1h-3zM153 692h3v1h-3zM152 693h5v1h-5zM152 694h5v1h-5zM151 695h7v1h-7zM151 696h7v1h-7zM150 697h9v1h-9z" fill="#009000"/>
<path d="M195 672h3v6h-3zM196 663h1v1h-1zM196 664h1v1h-1zM195 665h3v1h-3zM195 666h3v1h-3zM194 667h5v1h-5zM194 668h5v1h-5zM193 669h7v1h-7zM193 670h7v1h-7zM192 671h9v1h-9z" fill="#009000"/>
<path d="M213 683h3v6h-3zM214 674h1v1h-1zM214 675h1v1h-1zM213 676h3v1h-3zM213 677h3v1h-3zM212 678h5v1h-5zM212 679h5v1h-5zM211 680h7v1h-7zM211 681h7v1h-7zM210 682h9v1h-9z" fill="#009000"/>
<path d="M228 680h3v6h-3zM229 671h1v1h-1zM229 672h1v1h-1zM228 673h3v1h-3zM228 674h3v1h-3zM227 675h5v1h-5zM227 676h5v1h-5zM226 677h7v1h-7zM226 678h7v1h-7zM225 679h9v1h-9z" fill="#009000"/>
<path d="M319 622h3v6h-3zM320 613h1v1h-1zM320 614h1v1h-1zM319 615h3v1h-3zM319 616h3v1h-3zM318 617h5v1h-5zM318 618h5v1h-5zM317 619h7v1h-7zM317 620h7v1h-7zM316 621h9v1h-9z" fill="#009000"/>
<path d="M367 584h3v6h-3zM368 575h1v1h-1zM368 576h1v1h-1zM367 577h3v1h-3zM367 578h3v1h-3zM366 579h5v1h-5zM366 580h5v1h-5zM365 581h7v1h-7zM365 582h7v1h-7zM364 583h9v1h-9z" fill="#009000"/>
<path d="M448 544h3v6h-3zM449 535h1v1h-1zM449 536h1v1h-1zM448 537h3v1h-3zM448 538h3v1h-3zM447 539h5v1h-5zM447 540h5v1h-5zM446 541h7v1h-7zM446 542h7v1h-7zM445 543h9v1h-9z" fill="#009000"/>
<path d="M518 524h3v6h-3zM519 515h1v1h-1zM519 516h1v1h-1zM518 517h3v1h-3zM518 518h3v1h-3zM517 519h5v1h-5zM517 520h5v1h-5zM516 521h7v1h-7zM516 522h7v1h-7zM515 523h9v1h-9z" fill="#009000"/>
<path d="M523 523h3v6h-3zM524 514h1v1h-1zM524 515h1v1h-1zM523 516h3v1h-3zM523 517h3v1h-3zM522 518h5v1h-5zM522 519h5v1h-5zM521 520h7v1h-7zM521 521h7v1h-7zM520 522h9v1h-9z" fill="#009000"/>
<path d="M539 529h3v6h-3zM540 520h1v1h-1zM540 521h1v1h-1zM539 522h3v1h-3zM539 523h3v1h-3zM538 524h5v1h-5zM538 525h5v1h-5zM537 526h7v1h-7zM537 527h7v1h-7zM536 528h9v1h-9z" fill="#009000"/>
<path d="M577 534h3v6h-3zM578 525h1v1h-1zM578 526h1v1h-1zM577 527h3v1h-3zM577 528h3v1h-3zM576 529h5v1h-5zM576 530h5v1h-5zM575 531h7v1h-7zM575 532h7v1h-7zM574 533h9v1h-9z" fill="#009000"/>
<path d="M618 523h3v6h-3zM619 514h1v1h-1zM619 515h1v1h-1zM618 516h3v1h-3zM618 517h3v1h-3zM617 518h5v1h-5zM617 519h5v1h-5zM616 520h7v1h-7zM616 521h7v1h-7zM615 522h9v1h-9z" fill="#009000"/>
<path d="M647 510h3v6h-3zM648 501h1v1h-1zM648 502h1v1h-1zM647 503h3v1h-3zM647 504h3v1h-3zM646 505h5v1h-5zM646 506h5v1h-5zM645 507h7v1h-7zM645 508h7v1h-7zM644 509h9v1h-9z" fill="#009000"/>
<rect x="3" y="423" width="1" height="309" fill="#000"/>
<rect x="719" y="423" width="1" height="309" fill="#000"/>
<rect x="3" y="731" width="717" height="1" fill="#000"/>
<rect x="3" y="423" width="7" height="1" fill="#000"/>
<rect x="442" y="423" width="278" height="1" fill="#000"/>
<text x="9.16 16.16 23.16 30.16" y="743" fill="#000" font-family="Liberation Sans, Arial, sans-serif" font-size="12px">2025</text>
<rect x="83" y="732" width="1" height="7" fill="#000"/>
<text x="87.5 96.17 103" y="743" fill="#000" font-family="Liberation Sans, Arial, sans-serif" font-size="12px">Mar</text>
<rect x="136" y="732" width="1" height="7" fill="#000"/>
<text x="139.5 147.16 154" y="743" fill="#000" font-family="Liberation Sans, Arial, sans-serif" font-size="12px">Apr</text>
<rect x="189" y="732" width="1" height="7" fill="#000"/>
<text x="193.5 202.16 208.5" y="743" fill="#000" font-family="Liberation Sans, Arial, sans-serif" font-size="12px">May</text>
<rect x="242" y="732" width="1" height="7" fill="#000"/>
<text x="246 252.16 259.17" y="743" fill="#000" font-family="Liberation Sans, Arial, sans-serif" font-size="12px">Jun</text>
<rect x="292" y="732" width="1" height="7" fill="#000"/>
<text x="296 302.17 309.17" y="743" fill="#000" font-family="Liberation Sans, Arial, sans-serif" font-size="12px">Jul</text>
<rect x="348" y="732" width="1" height="7" fill="#000"/>
<text x="351.5 359.17 366.17" y="743" fill="#000" font-family="Liberation Sans, Arial, sans-serif" font-size="12px">Aug</text>
<rect x="401" y="732" width="1" height="7" fill="#000"/>
<text x="405 413.17 420.17" y="743" fill="#000" font-family="Liberation Sans, Arial, sans-serif" font-size="12px">Sep</text>
<rect x="454" y="732" width="1" height="7" fill="#000"/>
<text x="457.83 467 472.83" y="743" fill="#000" font-family="Liberation Sans, Arial, sans-serif" font-size="12px">Oct</text>
<rect x="511" y="732" width="1" height="7" fill="#000"/>
<text x="515.16 524.16 530.5" y="743" fill="#000" font-family="Liberation Sans, Arial, sans-serif" font-size="12px">Nov</text>
<rect x="560" y="732" width="1" height="7" fill="#000"/>
<text x="564.16 573.16 580" y="743" fill="#000" font-family="Liberation Sans, Arial, sans-serif" font-size="12px">Dec</text>
<rect x="615" y="732" width="1" height="7" fill="#000"/>
<text x="619.16 626.16 633.16 640.16" y="743" fill="#000" font-family="Liberation Sans, Arial, sans-serif" font-size="12px">2026</text>
<rect x="666" y="732" width="1" height="7" fill="#000"/>
<text x="669.84 677.16 684.16" y="743" fill="#000" font-family="Liberation Sans, Arial, sans-serif" font-size="12px">Feb</text>
<rect x="714" y="732" width="1" height="7" fill="#000"/>
<text x="718.5 727.16 734" y="743" fill="#000" font-family="Liberation Sans, Arial, sans-serif" font-size="12px">Mar</text>
</g>
<text x="10.16 18.84 25.84 35" y="11" fill="#000" font-family="Liberation Sans, Arial, sans-serif" font-size="12px">DFGP</text><text x="46" y="11" fill="#000" font-family="Liberation Sans, Arial, sans-serif" font-size="12px">-</text><text x="53.16 62.16 69.17 72.17 74.5" y="11" fill="#000" font-family="Liberation Sans, Arial, sans-serif" font-size="12px">Daily</text><text x="83.17 90.17 97.17 104.17 111 115.17 122.17 129 133.16 140.16" y="11" fill="#000" font-family="Liberation Sans, Arial, sans-serif" font-size="12px">2026-03-02</text><text x="149.84 159.16 166.16 173.16" y="11" fill="#000" font-family="Liberation Sans, Arial, sans-serif" font-size="12px">Open</text><text x="183.16 190.16 196.84 200.16 207.16 213.84" y="11" fill="#000" font-family="Liberation Sans, Arial, sans-serif" font-size="12px">54.92,</text><text x="220.16 229.16" y="11" fill="#000" font-family="Liberation Sans, Arial, sans-serif" font-size="12px">Hi</text><text x="235.16 242.16 248.84 252.16 259.17 266.17 272.83" y="11" fill="#000" font-family="Liberation Sans, Arial, sans-serif" font-size="12px">54.975,</text><text x="279.17 286.17" y="11" fill="#000" font-family="Liberation Sans, Arial, sans-serif" font-size="12px">Lo</text><text x="296.17 303.17 309.83 313.17 320.17 326.83" y="11" fill="#000" font-family="Liberation Sans, Arial, sans-serif" font-size="12px">54.79,</text><text x="333.17 342.17 345.17 352.5 359.17" y="11" fill="#000" font-family="Liberation Sans, Arial, sans-serif" font-size="12px">Close</text><text x="369.17 376.17 382.83 386.17 393.17" y="11" fill="#000" font-family="Liberation Sans, Arial, sans-serif" font-size="12px">54.93</text><text x="403 407 411.17 417.83 421.17 428.17 439" y="11" fill="#000" font-family="Liberation Sans, Arial, sans-serif" font-size="12px">(-0.5%)</text>
<text x="10.16 17.16 24.16 31.16" y="25" fill="#f00" font-family="Liberation Sans, Arial, sans-serif" font-size="12px">100%</text><text x="44.99" y="25" fill="#000" font-family="Liberation Sans, Arial, sans-serif" font-size="12px">=</text><text x="54.99 59 67.5 76 83.83 90.5 98 101.83" y="25" fill="#000" font-family="Liberation Sans, Arial, sans-serif" font-size="12px">{EMPTY},</text><text x="108.17 115.17 121.83 125.17 132.16" y="25" fill="#f0f" font-family="Liberation Sans, Arial, sans-serif" font-size="12px">78.6%</text><text x="146" y="25" fill="#000" font-family="Liberation Sans, Arial, sans-serif" font-size="12px">=</text><text x="156 160 168.5 177 184.84 191.5 199 202.84" y="25" fill="#000" font-family="Liberation Sans, Arial, sans-serif" font-size="12px">{EMPTY},</text><text x="209.16 216.16 222.84 226.16 233.16" y="25" fill="#86a4cc" font-family="Liberation Sans, Arial, sans-serif" font-size="12px">61.8%</text><text x="247" y="25" fill="#000" font-family="Liberation Sans, Arial, sans-serif" font-size="12px">=</text><text x="257 261 269.5 278 285.83 292.5 300 303.83" y="25" fill="#000" font-family="Liberation Sans, Arial, sans-serif" font-size="12px">{EMPTY},</text><text x="310.17 317.17 324.17" y="25" fill="#00f" font-family="Liberation Sans, Arial, sans-serif" font-size="12px">50%</text><text x="338" y="25" fill="#000" font-family="Liberation Sans, Arial, sans-serif" font-size="12px">=</text><text x="348 352 360.5 369 376.83 383.5 391 394.83" y="25" fill="#000" font-family="Liberation Sans, Arial, sans-serif" font-size="12px">{EMPTY},</text><text x="401.17 408.17 414.83 418.17 425.17" y="25" fill="#86a4cc" font-family="Liberation Sans, Arial, sans-serif" font-size="12px">38.2%</text><text x="439" y="25" fill="#000" font-family="Liberation Sans, Arial, sans-serif" font-size="12px">=</text><text x="449 453 461.5 470 477.83 484.5 492 495.83" y="25" fill="#000" font-family="Liberation Sans, Arial, sans-serif" font-size="12px">{EMPTY},</text><text x="502.17 509.17 515.84 519.16 526.16" y="25" fill="#f0f" font-family="Liberation Sans, Arial, sans-serif" font-size="12px">23.6%</text><text x="540" y="25" fill="#000" font-family="Liberation Sans, Arial, sans-serif" font-size="12px">=</text><text x="550 554 562.5 571 578.84 585.5 593 596.84" y="25" fill="#000" font-family="Liberation Sans, Arial, sans-serif" font-size="12px">{EMPTY},</text><text x="603.16 610.16" y="25" fill="#009000" font-family="Liberation Sans, Arial, sans-serif" font-size="12px">0%</text><text x="624" y="25" fill="#000" font-family="Liberation Sans, Arial, sans-serif" font-size="12px">=</text><text x="634 638 646.5 655 662.84 669.5 677" y="25" fill="#000" font-family="Liberation Sans, Arial, sans-serif" font-size="12px">{EMPTY}</text>
<rect x="10" y="314" width="411" height="14" fill="#fff"/>
<text x="10.16 18.84 25.84 35" y="325" fill="#000" font-family="Liberation Sans, Arial, sans-serif" font-size="12px">DFGP</text><text x="46" y="325" fill="#000" font-family="Liberation Sans, Arial, sans-serif" font-size="12px">-</text><text x="53 61.16 68.17 75 78.83 82 90.17 97.5" y="325" fill="#808000" font-family="Liberation Sans, Arial, sans-serif" font-size="12px">ShortPds</text><text x="107" y="325" fill="#000" font-family="Liberation Sans, Arial, sans-serif" font-size="12px">=</text><text x="117.17 123.83 127.17 134.16 140.84" y="325" fill="#000" font-family="Liberation Sans, Arial, sans-serif" font-size="12px">0.61,</text><text x="147 155.16 162.16 169 172.84 176 184.16 191.5" y="325" fill="#808000" font-family="Liberation Sans, Arial, sans-serif" font-size="12px">ShortPds</text><text x="201" y="325" fill="#000" font-family="Liberation Sans, Arial, sans-serif" font-size="12px">=</text><text x="211.16 217.84 221.16 228.16 234.84" y="325" fill="#000" font-family="Liberation Sans, Arial, sans-serif" font-size="12px">0.68,</text><text x="241.16 248.16 255.16 262.17 269 277.17 284.5" y="325" fill="#00f" font-family="Liberation Sans, Arial, sans-serif" font-size="12px">LongPds</text><text x="294" y="325" fill="#000" font-family="Liberation Sans, Arial, sans-serif" font-size="12px">=</text><text x="304.17 310.83 314.17 321.17 327.83" y="325" fill="#000" font-family="Liberation Sans, Arial, sans-serif" font-size="12px">1.12,</text><text x="334.17 341.17 348.17 355.17 362 370.17 377.5" y="325" fill="#00f" font-family="Liberation Sans, Arial, sans-serif" font-size="12px">LongPds</text><text x="387" y="325" fill="#000" font-family="Liberation Sans, Arial, sans-serif" font-size="12px">=</text><text x="397.17 403.83 407.17 414.17" y="325" fill="#000" font-family="Liberation Sans, Arial, sans-serif" font-size="12px">1.04</text>
<text x="10.16 18.84 25.84 35" y="429" fill="#000" font-family="Liberation Sans, Arial, sans-serif" font-size="12px">DFGP</text><text x="46" y="429" fill="#000" font-family="Liberation Sans, Arial, sans-serif" font-size="12px">-</text><text x="53.16 62.16 69.17 72.17 74.5" y="429" fill="#000" font-family="Liberation Sans, Arial, sans-serif" font-size="12px">Daily</text><text x="83.17 90.17 97.17 104.17 111 115.17 122.17 129 133.16 140.16" y="429" fill="#000" font-family="Liberation Sans, Arial, sans-serif" font-size="12px">2026-03-02</text><text x="149.84 159.16 166.16 173.16" y="429" fill="#000" font-family="Liberation Sans, Arial, sans-serif" font-size="12px">Open</text><text x="183.16 190.16 196.84 200.16 207.16 213.84 217.16 226.16" y="429" fill="#000" font-family="Liberation Sans, Arial, sans-serif" font-size="12px">54.92,Hi</text><text x="232.16 239.16 245.84 249.16 256.17 263.17 269.83 273.17 280.17" y="429" fill="#000" font-family="Liberation Sans, Arial, sans-serif" font-size="12px">54.975,Lo</text><text x="290.17 297.17 303.83 307.17 314.17 320.83" y="429" fill="#000" font-family="Liberation Sans, Arial, sans-serif" font-size="12px">54.79,</text><text x="327.17 336.17 339.17 346.5 353.17" y="429" fill="#000" font-family="Liberation Sans, Arial, sans-serif" font-size="12px">Close</text><text x="363.17 370.17 376.83 380.17 387.17" y="429" fill="#000" font-family="Liberation Sans, Arial, sans-serif" font-size="12px">54.93</text><text x="397 401 405.17 411.83 415.17 422.17 433" y="429" fill="#000" font-family="Liberation Sans, Arial, sans-serif" font-size="12px">(-0.5%)</text>
<text x="9.5 17.16 24.16" y="443" fill="#000" font-family="Liberation Sans, Arial, sans-serif" font-size="12px">Vol</text><text x="30.16 37.16 43.84 47.16 54.16 61.16 67.83 71.17 78.17 85.17" y="443" fill="#000" font-family="Liberation Sans, Arial, sans-serif" font-size="12px">12,834,200</text><text x="95.17 102 106.17 113.17 120.17 127.17" y="443" fill="#f00" font-family="Liberation Sans, Arial, sans-serif" font-size="12px">graph8</text><text x="137" y="443" fill="#000" font-family="Liberation Sans, Arial, sans-serif" font-size="12px">=</text><text x="147.16 154.16 160.84 164.16 171.16 177.84" y="443" fill="#000" font-family="Liberation Sans, Arial, sans-serif" font-size="12px">55.19,</text><text x="184.16 191 195.16 202.16 209.16 216.16" y="443" fill="#009000" font-family="Liberation Sans, Arial, sans-serif" font-size="12px">graph9</text><text x="226" y="443" fill="#000" font-family="Liberation Sans, Arial, sans-serif" font-size="12px">=</text><text x="236.16 243.16 249.84 253.16 260.17" y="443" fill="#000" font-family="Liberation Sans, Arial, sans-serif" font-size="12px">54.44</text>
<g shape-rendering="crispEdges">
<path d="M4 741h3v6h-3zM5 732h1v1h-1zM5 733h1v1h-1zM4 734h3v1h-3zM4 735h3v1h-3zM3 736h5v1h-5zM3 737h5v1h-5zM2 738h7v1h-7zM2 739h7v1h-7zM1 740h9v1h-9z" fill="#009000"/>
</g>
</svg>
</body></html>
